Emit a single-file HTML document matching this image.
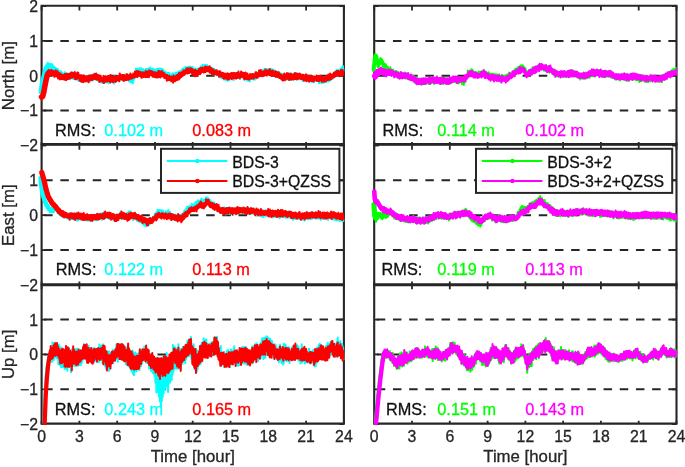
<!DOCTYPE html>
<html><head><meta charset="utf-8"><style>
html,body{margin:0;padding:0;background:#fff;width:685px;height:467px;overflow:hidden}
</style></head><body>
<svg width="685" height="467" viewBox="0 0 685 467" style="display:block;will-change:transform"><rect width="685" height="467" fill="#fff"/><g stroke-width="0.3" font-family='"Liberation Sans", sans-serif' font-size="16.3"><line x1="42.6" y1="40.9" x2="343.9" y2="40.9" stroke="#262626" stroke-width="2.0" stroke-dasharray="8.5 7.7" stroke-dashoffset="-1.55"/><line x1="42.6" y1="75.7" x2="343.9" y2="75.7" stroke="#262626" stroke-width="2.0" stroke-dasharray="8.5 7.7" stroke-dashoffset="-1.55"/><line x1="42.6" y1="110.5" x2="343.9" y2="110.5" stroke="#262626" stroke-width="2.0" stroke-dasharray="8.5 7.7" stroke-dashoffset="-1.55"/><line x1="42.6" y1="180.3" x2="343.9" y2="180.3" stroke="#262626" stroke-width="2.0" stroke-dasharray="8.5 7.7" stroke-dashoffset="-1.55"/><line x1="42.6" y1="215.2" x2="343.9" y2="215.2" stroke="#262626" stroke-width="2.0" stroke-dasharray="8.5 7.7" stroke-dashoffset="-1.55"/><line x1="42.6" y1="250.1" x2="343.9" y2="250.1" stroke="#262626" stroke-width="2.0" stroke-dasharray="8.5 7.7" stroke-dashoffset="-1.55"/><line x1="42.6" y1="319.6" x2="343.9" y2="319.6" stroke="#262626" stroke-width="2.0" stroke-dasharray="8.5 7.7" stroke-dashoffset="-1.55"/><line x1="42.6" y1="354.4" x2="343.9" y2="354.4" stroke="#262626" stroke-width="2.0" stroke-dasharray="8.5 7.7" stroke-dashoffset="-1.55"/><line x1="42.6" y1="389.3" x2="343.9" y2="389.3" stroke="#262626" stroke-width="2.0" stroke-dasharray="8.5 7.7" stroke-dashoffset="-1.55"/><line x1="375.2" y1="40.9" x2="676.5" y2="40.9" stroke="#262626" stroke-width="2.0" stroke-dasharray="8.5 7.7" stroke-dashoffset="-1.55"/><line x1="375.2" y1="75.7" x2="676.5" y2="75.7" stroke="#262626" stroke-width="2.0" stroke-dasharray="8.5 7.7" stroke-dashoffset="-1.55"/><line x1="375.2" y1="110.5" x2="676.5" y2="110.5" stroke="#262626" stroke-width="2.0" stroke-dasharray="8.5 7.7" stroke-dashoffset="-1.55"/><line x1="375.2" y1="180.3" x2="676.5" y2="180.3" stroke="#262626" stroke-width="2.0" stroke-dasharray="8.5 7.7" stroke-dashoffset="-1.55"/><line x1="375.2" y1="215.2" x2="676.5" y2="215.2" stroke="#262626" stroke-width="2.0" stroke-dasharray="8.5 7.7" stroke-dashoffset="-1.55"/><line x1="375.2" y1="250.1" x2="676.5" y2="250.1" stroke="#262626" stroke-width="2.0" stroke-dasharray="8.5 7.7" stroke-dashoffset="-1.55"/><line x1="375.2" y1="319.6" x2="676.5" y2="319.6" stroke="#262626" stroke-width="2.0" stroke-dasharray="8.5 7.7" stroke-dashoffset="-1.55"/><line x1="375.2" y1="354.4" x2="676.5" y2="354.4" stroke="#262626" stroke-width="2.0" stroke-dasharray="8.5 7.7" stroke-dashoffset="-1.55"/><line x1="375.2" y1="389.3" x2="676.5" y2="389.3" stroke="#262626" stroke-width="2.0" stroke-dasharray="8.5 7.7" stroke-dashoffset="-1.55"/><path d="M41.6 145.3 v-3.3 M41.6 6.1 v4.4 M79.4 145.3 v-3.3 M79.4 6.1 v4.4 M117.2 145.3 v-3.3 M117.2 6.1 v4.4 M155.0 145.3 v-3.3 M155.0 6.1 v4.4 M192.7 145.3 v-3.3 M192.7 6.1 v4.4 M230.5 145.3 v-3.3 M230.5 6.1 v4.4 M268.3 145.3 v-3.3 M268.3 6.1 v4.4 M306.1 145.3 v-3.3 M306.1 6.1 v4.4 M343.9 145.3 v-3.3 M343.9 6.1 v4.4 M41.6 145.3 h4.6 M343.9 145.3 h-4.6 M41.6 110.5 h4.6 M343.9 110.5 h-4.6 M41.6 75.7 h4.6 M343.9 75.7 h-4.6 M41.6 40.9 h4.6 M343.9 40.9 h-4.6 M41.6 6.1 h4.6 M343.9 6.1 h-4.6 " stroke="#262626" stroke-width="1.8" fill="none"/><path d="M41.6 5.8 H343.9 V144.1 H41.6 Z" fill="none" stroke="#262626" stroke-width="2.1"/><path d="M41.6 284.9 v-3.3 M41.6 145.4 v4.4 M79.4 284.9 v-3.3 M79.4 145.4 v4.4 M117.2 284.9 v-3.3 M117.2 145.4 v4.4 M155.0 284.9 v-3.3 M155.0 145.4 v4.4 M192.7 284.9 v-3.3 M192.7 145.4 v4.4 M230.5 284.9 v-3.3 M230.5 145.4 v4.4 M268.3 284.9 v-3.3 M268.3 145.4 v4.4 M306.1 284.9 v-3.3 M306.1 145.4 v4.4 M343.9 284.9 v-3.3 M343.9 145.4 v4.4 M41.6 284.9 h4.6 M343.9 284.9 h-4.6 M41.6 250.1 h4.6 M343.9 250.1 h-4.6 M41.6 215.2 h4.6 M343.9 215.2 h-4.6 M41.6 180.3 h4.6 M343.9 180.3 h-4.6 M41.6 145.4 h4.6 M343.9 145.4 h-4.6 " stroke="#262626" stroke-width="1.8" fill="none"/><path d="M41.6 144.8 H343.9 V284.4 H41.6 Z" fill="none" stroke="#262626" stroke-width="2.1"/><path d="M41.6 424.1 v-3.3 M41.6 284.8 v4.4 M79.4 424.1 v-3.3 M79.4 284.8 v4.4 M117.2 424.1 v-3.3 M117.2 284.8 v4.4 M155.0 424.1 v-3.3 M155.0 284.8 v4.4 M192.7 424.1 v-3.3 M192.7 284.8 v4.4 M230.5 424.1 v-3.3 M230.5 284.8 v4.4 M268.3 424.1 v-3.3 M268.3 284.8 v4.4 M306.1 424.1 v-3.3 M306.1 284.8 v4.4 M343.9 424.1 v-3.3 M343.9 284.8 v4.4 M41.6 424.1 h4.6 M343.9 424.1 h-4.6 M41.6 389.3 h4.6 M343.9 389.3 h-4.6 M41.6 354.4 h4.6 M343.9 354.4 h-4.6 M41.6 319.6 h4.6 M343.9 319.6 h-4.6 M41.6 284.8 h4.6 M343.9 284.8 h-4.6 " stroke="#262626" stroke-width="1.8" fill="none"/><path d="M41.6 285.2 H343.9 V423.6 H41.6 Z" fill="none" stroke="#262626" stroke-width="2.1"/><path d="M374.2 145.3 v-3.3 M374.2 6.1 v4.4 M412.0 145.3 v-3.3 M412.0 6.1 v4.4 M449.8 145.3 v-3.3 M449.8 6.1 v4.4 M487.6 145.3 v-3.3 M487.6 6.1 v4.4 M525.4 145.3 v-3.3 M525.4 6.1 v4.4 M563.1 145.3 v-3.3 M563.1 6.1 v4.4 M600.9 145.3 v-3.3 M600.9 6.1 v4.4 M638.7 145.3 v-3.3 M638.7 6.1 v4.4 M676.5 145.3 v-3.3 M676.5 6.1 v4.4 M374.2 145.3 h4.6 M676.5 145.3 h-4.6 M374.2 110.5 h4.6 M676.5 110.5 h-4.6 M374.2 75.7 h4.6 M676.5 75.7 h-4.6 M374.2 40.9 h4.6 M676.5 40.9 h-4.6 M374.2 6.1 h4.6 M676.5 6.1 h-4.6 " stroke="#262626" stroke-width="1.8" fill="none"/><path d="M374.2 5.8 H676.5 V144.1 H374.2 Z" fill="none" stroke="#262626" stroke-width="2.1"/><path d="M374.2 284.9 v-3.3 M374.2 145.4 v4.4 M412.0 284.9 v-3.3 M412.0 145.4 v4.4 M449.8 284.9 v-3.3 M449.8 145.4 v4.4 M487.6 284.9 v-3.3 M487.6 145.4 v4.4 M525.4 284.9 v-3.3 M525.4 145.4 v4.4 M563.1 284.9 v-3.3 M563.1 145.4 v4.4 M600.9 284.9 v-3.3 M600.9 145.4 v4.4 M638.7 284.9 v-3.3 M638.7 145.4 v4.4 M676.5 284.9 v-3.3 M676.5 145.4 v4.4 M374.2 284.9 h4.6 M676.5 284.9 h-4.6 M374.2 250.1 h4.6 M676.5 250.1 h-4.6 M374.2 215.2 h4.6 M676.5 215.2 h-4.6 M374.2 180.3 h4.6 M676.5 180.3 h-4.6 M374.2 145.4 h4.6 M676.5 145.4 h-4.6 " stroke="#262626" stroke-width="1.8" fill="none"/><path d="M374.2 144.8 H676.5 V284.4 H374.2 Z" fill="none" stroke="#262626" stroke-width="2.1"/><path d="M374.2 424.1 v-3.3 M374.2 284.8 v4.4 M412.0 424.1 v-3.3 M412.0 284.8 v4.4 M449.8 424.1 v-3.3 M449.8 284.8 v4.4 M487.6 424.1 v-3.3 M487.6 284.8 v4.4 M525.4 424.1 v-3.3 M525.4 284.8 v4.4 M563.1 424.1 v-3.3 M563.1 284.8 v4.4 M600.9 424.1 v-3.3 M600.9 284.8 v4.4 M638.7 424.1 v-3.3 M638.7 284.8 v4.4 M676.5 424.1 v-3.3 M676.5 284.8 v4.4 M374.2 424.1 h4.6 M676.5 424.1 h-4.6 M374.2 389.3 h4.6 M676.5 389.3 h-4.6 M374.2 354.4 h4.6 M676.5 354.4 h-4.6 M374.2 319.6 h4.6 M676.5 319.6 h-4.6 M374.2 284.8 h4.6 M676.5 284.8 h-4.6 " stroke="#262626" stroke-width="1.8" fill="none"/><path d="M374.2 285.2 H676.5 V423.6 H374.2 Z" fill="none" stroke="#262626" stroke-width="2.1"/><path d="M41.0 93.9 L41.5 85.0 L41.9 88.2 L42.4 81.3 L42.8 84.1 L43.3 76.3 L43.7 78.9 L44.2 72.6 L44.6 75.6 L45.1 70.4 L45.5 71.8 L46.0 66.7 L46.4 70.2 L46.9 64.6 L47.3 68.4 L47.8 62.7 L48.2 68.1 L48.7 63.9 L49.1 68.2 L49.6 63.7 L50.0 68.3 L50.5 64.5 L50.9 69.5 L51.4 63.9 L51.8 70.2 L52.3 64.4 L52.7 70.9 L53.2 65.9 L53.6 71.4 L54.1 67.0 L54.5 72.3 L55.0 67.8 L55.4 71.7 L55.9 68.2 L56.3 73.6 L56.8 69.2 L57.2 72.9 L57.7 68.9 L58.1 74.8 L58.6 70.7 L59.0 76.2 L59.5 70.9 L59.9 76.1 L60.4 71.9 L60.8 76.0 L61.3 71.5 L61.7 76.3 L62.2 73.2 L62.6 77.6 L63.1 74.3 L63.5 77.8 L64.0 73.2 L64.4 78.3 L64.9 72.3 L65.3 78.8 L65.8 73.6 L66.2 79.8 L66.7 73.2 L67.1 78.0 L67.6 73.4 L68.0 78.0 L68.5 75.1 L68.9 78.8 L69.4 74.7 L69.8 78.4 L70.3 73.7 L70.7 78.5 L71.2 73.0 L71.6 78.0 L72.1 72.2 L72.5 78.4 L73.0 72.7 L73.4 79.0 L73.9 73.7 L74.3 78.2 L74.8 73.6 L75.2 78.9 L75.7 74.7 L76.1 79.5 L76.6 74.1 L77.0 79.4 L77.5 74.8 L77.9 80.4 L78.4 75.6 L78.8 80.4 L79.3 75.0 L79.7 80.9 L80.2 76.6 L80.6 80.2 L81.1 76.4 L81.5 81.7 L82.0 76.9 L82.4 80.9 L82.9 76.8 L83.3 82.1 L83.8 77.9 L84.2 81.5 L84.7 76.7 L85.1 81.6 L85.6 77.1 L86.0 81.1 L86.5 76.7 L86.9 81.0 L87.4 76.4 L87.8 81.1 L88.3 75.2 L88.7 81.4 L89.2 76.0 L89.6 81.4 L90.1 76.9 L90.5 80.3 L91.0 76.0 L91.4 80.3 L91.9 75.3 L92.3 80.1 L92.8 75.0 L93.2 80.5 L93.7 75.3 L94.1 78.7 L94.6 73.6 L95.0 78.8 L95.5 74.7 L95.9 79.3 L96.4 75.3 L96.8 79.2 L97.3 76.1 L97.7 80.7 L98.2 76.0 L98.6 81.2 L99.1 76.3 L99.5 81.0 L100.0 77.0 L100.4 81.5 L100.9 77.1 L101.3 82.6 L101.8 77.7 L102.2 82.9 L102.7 78.8 L103.1 81.8 L103.6 78.9 L104.0 82.8 L104.5 78.5 L104.9 82.4 L105.4 77.1 L105.8 81.4 L106.3 77.6 L106.7 82.5 L107.2 78.0 L107.6 81.9 L108.1 78.0 L108.5 83.2 L109.0 76.5 L109.4 82.2 L109.9 78.5 L110.3 82.5 L110.8 78.4 L111.2 81.3 L111.7 78.2 L112.1 82.1 L112.6 77.4 L113.0 81.6 L113.5 77.8 L113.9 83.7 L114.4 76.1 L114.8 82.1 L115.3 78.1 L115.7 80.7 L116.2 77.0 L116.6 81.1 L117.1 76.8 L117.5 80.7 L118.0 76.7 L118.4 79.4 L118.9 76.0 L119.3 80.2 L119.8 75.3 L120.2 80.5 L120.7 75.9 L121.1 79.3 L121.6 74.9 L122.0 78.5 L122.5 75.0 L122.9 79.9 L123.4 75.1 L123.8 80.3 L124.3 74.8 L124.7 80.0 L125.2 74.6 L125.6 79.2 L126.1 76.1 L126.5 79.3 L127.0 75.2 L127.4 79.6 L127.9 75.9 L128.3 79.5 L128.8 76.5 L129.2 81.6 L129.7 77.3 L130.1 81.3 L130.6 78.6 L131.0 82.4 L131.5 78.8 L131.9 82.1 L132.4 79.0 L132.8 83.2 L133.3 77.4 L133.7 80.2 L134.2 74.4 L134.6 78.3 L135.1 72.5 L135.5 74.9 L136.0 68.4 L136.4 74.6 L136.9 69.1 L137.3 73.0 L137.8 69.0 L138.2 73.8 L138.7 68.8 L139.1 73.6 L139.6 68.3 L140.0 75.2 L140.5 69.3 L140.9 74.1 L141.4 68.2 L141.8 74.6 L142.3 69.9 L142.7 73.7 L143.2 69.3 L143.6 75.2 L144.1 70.2 L144.5 74.8 L145.0 70.3 L145.4 74.8 L145.9 69.0 L146.3 73.6 L146.8 69.8 L147.2 74.6 L147.7 68.8 L148.1 73.4 L148.6 68.6 L149.0 74.4 L149.5 68.7 L149.9 73.5 L150.3 67.6 L150.8 72.5 L151.2 68.8 L151.7 72.4 L152.1 69.3 L152.6 73.8 L153.0 68.5 L153.5 74.0 L153.9 69.7 L154.4 74.5 L154.8 69.6 L155.3 73.7 L155.7 70.1 L156.2 75.7 L156.6 69.3 L157.1 74.7 L157.5 69.0 L158.0 73.7 L158.4 68.8 L158.9 73.5 L159.3 68.5 L159.8 74.1 L160.2 68.5 L160.7 73.1 L161.1 69.6 L161.6 74.1 L162.0 68.7 L162.5 74.5 L162.9 69.7 L163.4 73.7 L163.8 70.5 L164.3 75.4 L164.7 71.9 L165.2 75.2 L165.6 72.0 L166.1 76.8 L166.5 72.8 L167.0 76.7 L167.4 73.1 L167.9 76.9 L168.3 72.7 L168.8 77.3 L169.2 72.7 L169.7 77.3 L170.1 74.4 L170.6 77.4 L171.0 74.2 L171.5 78.9 L171.9 74.2 L172.4 78.5 L172.8 73.2 L173.3 79.2 L173.7 74.1 L174.2 78.9 L174.6 74.2 L175.1 77.8 L175.5 72.8 L176.0 78.4 L176.4 72.7 L176.9 77.2 L177.3 73.6 L177.8 77.5 L178.2 71.8 L178.7 77.4 L179.1 71.9 L179.6 76.6 L180.0 71.0 L180.5 75.2 L180.9 71.4 L181.4 74.1 L181.8 69.6 L182.3 73.2 L182.7 68.9 L183.2 74.4 L183.6 68.3 L184.1 71.9 L184.5 68.6 L185.0 71.6 L185.4 67.0 L185.9 71.4 L186.3 67.4 L186.8 71.5 L187.2 67.6 L187.7 71.2 L188.1 66.8 L188.6 71.3 L189.0 67.0 L189.5 70.3 L189.9 66.5 L190.4 70.8 L190.8 66.7 L191.3 70.6 L191.7 67.4 L192.2 72.1 L192.6 67.1 L193.1 72.0 L193.5 68.6 L194.0 73.8 L194.4 69.1 L194.9 74.2 L195.3 68.2 L195.8 74.3 L196.2 68.9 L196.7 74.0 L197.1 69.3 L197.6 74.3 L198.0 68.5 L198.5 72.1 L198.9 68.7 L199.4 71.6 L199.8 67.9 L200.3 70.8 L200.7 66.2 L201.2 72.0 L201.6 66.5 L202.1 69.9 L202.5 64.9 L203.0 70.8 L203.4 65.2 L203.9 70.9 L204.3 65.5 L204.8 69.9 L205.2 65.1 L205.7 69.7 L206.1 66.0 L206.6 69.1 L207.0 65.0 L207.5 71.1 L207.9 65.9 L208.4 71.1 L208.8 66.8 L209.3 71.0 L209.7 67.5 L210.2 71.9 L210.6 67.1 L211.1 71.8 L211.5 68.3 L212.0 71.9 L212.4 68.2 L212.9 74.5 L213.3 69.4 L213.8 74.2 L214.2 68.7 L214.7 74.0 L215.1 69.9 L215.6 74.3 L216.0 70.0 L216.5 75.4 L216.9 71.3 L217.4 74.9 L217.8 71.3 L218.3 75.2 L218.7 71.9 L219.2 76.7 L219.6 72.3 L220.1 77.3 L220.5 73.0 L221.0 77.4 L221.4 73.8 L221.9 78.2 L222.3 72.6 L222.8 77.6 L223.2 73.5 L223.7 79.5 L224.1 74.2 L224.6 79.0 L225.0 74.0 L225.5 79.9 L225.9 75.6 L226.4 79.2 L226.8 75.2 L227.3 80.8 L227.7 75.0 L228.2 79.2 L228.6 74.6 L229.1 80.4 L229.5 74.8 L230.0 78.4 L230.4 74.4 L230.9 78.6 L231.3 73.8 L231.8 78.9 L232.2 74.5 L232.7 79.3 L233.1 74.7 L233.6 80.1 L234.0 74.2 L234.5 78.2 L234.9 73.9 L235.4 77.3 L235.8 73.5 L236.3 77.3 L236.7 73.8 L237.2 77.3 L237.6 73.4 L238.1 77.0 L238.5 72.8 L239.0 77.0 L239.4 72.4 L239.9 79.0 L240.3 73.2 L240.8 77.6 L241.2 73.7 L241.7 77.0 L242.1 72.7 L242.6 77.1 L243.0 73.6 L243.5 77.9 L243.9 74.4 L244.4 79.9 L244.8 73.0 L245.3 78.5 L245.7 75.0 L246.2 79.4 L246.6 75.4 L247.1 80.4 L247.5 74.8 L248.0 80.7 L248.4 75.9 L248.9 80.6 L249.3 75.3 L249.8 81.5 L250.2 74.5 L250.7 79.3 L251.1 75.1 L251.6 79.0 L252.0 75.4 L252.5 78.8 L252.9 74.2 L253.4 79.6 L253.8 74.0 L254.3 79.5 L254.7 74.8 L255.2 79.5 L255.6 73.4 L256.1 78.5 L256.5 72.8 L257.0 77.5 L257.4 73.3 L257.9 77.0 L258.3 73.2 L258.8 75.9 L259.2 71.6 L259.7 75.5 L260.1 72.2 L260.6 75.9 L261.0 70.7 L261.5 75.6 L261.9 71.7 L262.4 75.4 L262.8 70.3 L263.3 75.7 L263.7 70.7 L264.2 74.6 L264.6 68.7 L265.1 74.1 L265.5 69.3 L266.0 74.5 L266.4 68.9 L266.9 74.3 L267.3 69.7 L267.8 73.4 L268.2 68.9 L268.7 75.0 L269.1 69.9 L269.6 73.9 L270.0 69.2 L270.5 73.1 L270.9 69.7 L271.4 73.0 L271.8 68.9 L272.3 73.7 L272.7 70.6 L273.2 74.3 L273.6 69.8 L274.1 75.2 L274.5 70.8 L275.0 74.1 L275.4 70.8 L275.9 74.4 L276.3 71.9 L276.8 76.3 L277.2 72.0 L277.7 76.2 L278.1 71.6 L278.6 76.4 L279.0 73.4 L279.5 77.7 L279.9 74.1 L280.4 78.2 L280.8 73.3 L281.3 79.3 L281.7 75.1 L282.2 79.2 L282.6 74.1 L283.1 78.7 L283.5 74.8 L284.0 79.2 L284.4 74.5 L284.9 78.6 L285.3 75.6 L285.8 78.6 L286.2 74.0 L286.7 78.7 L287.1 74.9 L287.6 79.5 L288.0 74.3 L288.5 79.6 L288.9 74.1 L289.4 79.5 L289.8 74.3 L290.3 78.7 L290.7 73.1 L291.2 80.0 L291.6 74.2 L292.1 80.0 L292.5 74.6 L293.0 79.6 L293.4 75.7 L293.9 79.1 L294.3 74.5 L294.8 78.5 L295.2 74.3 L295.7 78.5 L296.1 73.2 L296.6 79.6 L297.0 74.2 L297.5 79.8 L297.9 74.2 L298.4 78.6 L298.8 75.3 L299.3 78.4 L299.7 74.6 L300.2 79.4 L300.6 74.0 L301.1 78.2 L301.5 74.9 L302.0 79.1 L302.4 75.1 L302.9 81.2 L303.3 74.6 L303.8 80.4 L304.2 76.7 L304.7 80.3 L305.1 76.6 L305.6 80.4 L306.0 76.8 L306.5 80.5 L306.9 76.2 L307.4 80.3 L307.8 77.4 L308.3 81.4 L308.7 76.7 L309.2 81.2 L309.6 75.4 L310.1 80.6 L310.5 77.6 L311.0 81.6 L311.4 76.7 L311.9 81.7 L312.3 76.9 L312.8 81.9 L313.2 77.5 L313.7 82.1 L314.1 76.8 L314.6 81.4 L315.0 76.9 L315.5 81.3 L315.9 77.4 L316.4 81.0 L316.8 76.4 L317.3 80.7 L317.7 77.2 L318.2 80.8 L318.6 77.6 L319.1 83.3 L319.5 78.0 L320.0 82.5 L320.4 77.2 L320.9 81.5 L321.3 78.4 L321.8 83.3 L322.2 77.5 L322.7 82.5 L323.1 78.2 L323.6 82.7 L324.0 77.8 L324.5 82.3 L324.9 77.6 L325.4 81.7 L325.8 77.1 L326.3 82.1 L326.7 77.0 L327.2 81.4 L327.6 75.8 L328.1 81.6 L328.5 76.4 L329.0 80.7 L329.4 75.9 L329.9 80.4 L330.3 76.0 L330.8 79.9 L331.2 74.8 L331.7 78.0 L332.1 74.7 L332.6 78.8 L333.0 74.1 L333.5 77.5 L333.9 72.6 L334.4 77.1 L334.8 72.0 L335.3 75.4 L335.7 71.5 L336.2 74.8 L336.6 69.8 L337.1 76.0 L337.5 70.4 L338.0 74.2 L338.4 70.2 L338.9 74.5 L339.3 69.7 L339.8 73.2 L340.2 69.3 L340.7 73.1 L341.1 67.9 L341.6 71.3 L342.0 67.2 L342.5 71.4 L342.9 66.1 L343.4 70.5" fill="none" stroke="#00ffff" stroke-width="2.0" stroke-linejoin="round" stroke-linecap="round"/><path d="M41.0 92.0 L42.0 84.0 L44.0 76.0 L46.0 68.0 L48.0 65.5 L51.0 67.0 L55.0 70.0 L60.0 73.5 L63.0 75.5" fill="none" stroke="#00ffff" stroke-width="4.8" stroke-linejoin="round" stroke-linecap="round"/><path d="M41.8 99.6 L42.2 94.0 L42.7 98.1 L43.2 92.5 L43.6 94.3 L44.1 88.7 L44.5 89.9 L45.0 83.7 L45.4 85.9 L45.9 78.4 L46.3 80.4 L46.8 74.3 L47.2 77.1 L47.7 71.4 L48.1 76.5 L48.6 70.1 L49.0 74.2 L49.5 70.6 L49.9 75.3 L50.4 70.9 L50.8 74.9 L51.3 70.1 L51.7 75.1 L52.2 70.9 L52.6 75.0 L53.1 70.8 L53.5 75.4 L54.0 71.5 L54.4 76.8 L54.9 72.1 L55.3 76.0 L55.8 70.2 L56.2 76.3 L56.7 71.9 L57.1 76.5 L57.6 71.2 L58.0 78.5 L58.5 72.7 L58.9 77.3 L59.4 73.3 L59.8 79.4 L60.3 73.6 L60.7 78.9 L61.2 74.2 L61.6 79.1 L62.1 74.7 L62.5 79.2 L63.0 75.1 L63.4 78.9 L63.9 75.1 L64.3 79.7 L64.8 74.1 L65.2 78.6 L65.7 74.3 L66.1 80.2 L66.6 73.8 L67.0 77.9 L67.5 75.2 L67.9 79.2 L68.4 73.9 L68.8 79.0 L69.3 73.8 L69.7 78.5 L70.2 73.5 L70.6 78.3 L71.1 72.6 L71.5 77.0 L72.0 72.7 L72.4 77.5 L72.9 72.9 L73.3 77.3 L73.8 73.4 L74.2 77.6 L74.7 72.0 L75.1 79.2 L75.6 73.3 L76.0 79.1 L76.5 73.6 L76.9 78.9 L77.4 72.6 L77.8 78.0 L78.3 72.8 L78.7 78.0 L79.2 75.3 L79.6 80.7 L80.1 75.5 L80.5 81.2 L81.0 75.3 L81.4 81.6 L81.9 75.8 L82.3 81.4 L82.8 75.9 L83.2 82.3 L83.7 75.5 L84.1 81.3 L84.6 76.1 L85.0 80.2 L85.5 76.6 L85.9 81.3 L86.4 76.2 L86.8 81.2 L87.3 76.6 L87.7 81.2 L88.2 75.9 L88.6 82.3 L89.1 75.8 L89.5 80.1 L90.0 75.2 L90.4 80.3 L90.9 75.8 L91.3 79.7 L91.8 75.3 L92.2 80.1 L92.7 76.1 L93.1 79.3 L93.6 74.4 L94.0 78.3 L94.5 74.2 L94.9 79.0 L95.4 74.0 L95.8 79.3 L96.3 73.6 L96.7 79.8 L97.2 74.8 L97.6 79.3 L98.1 75.3 L98.5 79.6 L99.0 75.5 L99.4 82.0 L99.9 75.9 L100.3 81.0 L100.8 76.2 L101.2 81.3 L101.7 77.7 L102.1 81.2 L102.6 77.9 L103.0 81.8 L103.5 75.8 L103.9 83.1 L104.4 76.8 L104.8 81.6 L105.3 76.2 L105.7 81.8 L106.2 76.6 L106.6 80.5 L107.1 76.7 L107.5 81.3 L108.0 75.9 L108.4 80.1 L108.9 75.9 L109.3 81.1 L109.8 76.8 L110.2 82.4 L110.7 75.1 L111.1 80.8 L111.6 76.7 L112.0 81.6 L112.5 77.2 L112.9 82.2 L113.4 76.2 L113.8 81.4 L114.3 76.6 L114.7 80.6 L115.2 76.6 L115.6 81.9 L116.1 76.2 L116.5 81.0 L117.0 76.1 L117.4 79.7 L117.9 76.3 L118.3 80.1 L118.8 76.0 L119.2 81.3 L119.7 73.6 L120.1 79.1 L120.6 74.5 L121.0 78.6 L121.5 75.4 L121.9 79.7 L122.4 75.0 L122.8 79.8 L123.3 74.9 L123.7 81.0 L124.2 75.2 L124.6 80.3 L125.1 75.6 L125.5 79.6 L126.0 75.9 L126.4 80.1 L126.9 74.1 L127.3 79.2 L127.8 75.3 L128.2 79.8 L128.7 75.7 L129.1 79.4 L129.6 74.4 L130.0 78.6 L130.5 73.4 L130.9 78.8 L131.4 75.5 L131.8 78.5 L132.3 75.0 L132.7 78.2 L133.2 73.6 L133.6 77.1 L134.1 73.6 L134.5 77.5 L135.0 71.6 L135.4 76.7 L135.9 72.3 L136.3 76.3 L136.8 71.1 L137.2 77.2 L137.7 71.4 L138.1 74.6 L138.6 71.2 L139.0 76.1 L139.5 72.2 L139.9 75.8 L140.4 72.1 L140.8 76.7 L141.3 72.6 L141.7 77.8 L142.2 72.5 L142.6 76.3 L143.1 72.3 L143.5 77.0 L144.0 73.3 L144.4 76.7 L144.9 72.3 L145.3 77.2 L145.8 70.9 L146.2 76.3 L146.7 72.9 L147.1 77.2 L147.6 71.6 L148.0 75.2 L148.5 71.4 L148.9 77.3 L149.3 70.3 L149.8 75.4 L150.2 71.4 L150.7 75.3 L151.1 71.1 L151.6 75.2 L152.0 71.2 L152.5 76.5 L152.9 72.0 L153.4 76.8 L153.8 72.3 L154.3 77.0 L154.7 72.8 L155.2 76.8 L155.6 72.2 L156.1 77.5 L156.5 73.4 L157.0 77.5 L157.4 72.8 L157.9 76.9 L158.3 71.1 L158.8 77.3 L159.2 71.3 L159.7 76.9 L160.1 71.4 L160.6 77.5 L161.0 72.0 L161.5 75.5 L161.9 71.1 L162.4 76.0 L162.8 72.4 L163.3 76.6 L163.7 72.7 L164.2 77.8 L164.6 73.5 L165.1 78.2 L165.5 74.8 L166.0 78.2 L166.4 75.0 L166.9 80.8 L167.3 74.9 L167.8 80.1 L168.2 76.3 L168.7 80.2 L169.1 75.8 L169.6 80.1 L170.0 76.6 L170.5 80.4 L170.9 77.2 L171.4 81.3 L171.8 76.4 L172.3 80.6 L172.7 77.0 L173.2 82.7 L173.6 75.6 L174.1 80.8 L174.5 77.0 L175.0 81.2 L175.4 76.6 L175.9 79.9 L176.3 75.4 L176.8 80.3 L177.2 74.9 L177.7 79.8 L178.1 74.4 L178.6 79.6 L179.0 73.0 L179.5 78.7 L179.9 73.2 L180.4 77.7 L180.8 72.6 L181.3 76.9 L181.7 72.5 L182.2 76.1 L182.6 71.6 L183.1 75.4 L183.5 70.5 L184.0 74.9 L184.4 70.6 L184.9 74.4 L185.3 70.4 L185.8 73.6 L186.2 68.9 L186.7 73.1 L187.1 68.3 L187.6 73.4 L188.0 68.2 L188.5 73.1 L188.9 68.5 L189.4 73.0 L189.8 68.5 L190.3 72.2 L190.7 68.0 L191.2 72.3 L191.6 69.2 L192.1 73.9 L192.5 69.1 L193.0 74.5 L193.4 69.9 L193.9 75.2 L194.3 71.5 L194.8 76.2 L195.2 69.7 L195.7 76.1 L196.1 70.6 L196.6 75.3 L197.0 71.1 L197.5 74.8 L197.9 70.7 L198.4 74.4 L198.8 68.9 L199.3 72.9 L199.7 68.6 L200.2 74.1 L200.6 68.0 L201.1 72.8 L201.5 67.9 L202.0 71.7 L202.4 67.6 L202.9 72.1 L203.3 68.2 L203.8 72.6 L204.2 67.9 L204.7 72.1 L205.1 66.5 L205.6 71.9 L206.0 66.7 L206.5 70.8 L206.9 67.6 L207.4 71.3 L207.8 67.1 L208.3 70.8 L208.7 67.3 L209.2 72.0 L209.6 66.2 L210.1 73.0 L210.5 67.8 L211.0 72.6 L211.4 68.2 L211.9 74.1 L212.3 69.5 L212.8 73.4 L213.2 69.2 L213.7 74.7 L214.1 70.6 L214.6 74.0 L215.0 70.6 L215.5 74.1 L215.9 70.7 L216.4 74.3 L216.8 70.3 L217.3 74.9 L217.7 71.4 L218.2 74.7 L218.6 71.6 L219.1 76.8 L219.5 71.2 L220.0 76.2 L220.4 71.6 L220.9 76.4 L221.3 72.7 L221.8 76.6 L222.2 72.9 L222.7 77.4 L223.1 73.0 L223.6 78.4 L224.0 73.9 L224.5 78.4 L224.9 73.5 L225.4 78.5 L225.8 74.4 L226.3 78.2 L226.7 73.8 L227.2 79.2 L227.6 73.3 L228.1 79.5 L228.5 74.0 L229.0 79.1 L229.4 74.1 L229.9 78.3 L230.3 73.7 L230.8 78.3 L231.2 73.0 L231.7 79.2 L232.1 73.2 L232.6 77.7 L233.0 73.1 L233.5 78.3 L233.9 73.2 L234.4 77.0 L234.8 73.0 L235.3 78.5 L235.7 73.8 L236.2 78.6 L236.6 73.0 L237.1 78.1 L237.5 72.8 L238.0 77.4 L238.4 71.5 L238.9 77.8 L239.3 73.8 L239.8 78.3 L240.2 73.6 L240.7 76.8 L241.1 71.4 L241.6 77.0 L242.0 72.3 L242.5 76.4 L242.9 73.0 L243.4 77.7 L243.8 72.7 L244.3 79.2 L244.7 73.7 L245.2 78.7 L245.6 72.5 L246.1 78.9 L246.5 74.2 L247.0 79.0 L247.4 73.6 L247.9 79.0 L248.3 75.3 L248.8 79.6 L249.2 75.3 L249.7 79.1 L250.1 74.0 L250.6 78.6 L251.0 75.1 L251.5 78.5 L251.9 74.2 L252.4 78.0 L252.8 73.9 L253.3 78.8 L253.7 74.6 L254.2 78.0 L254.6 74.4 L255.1 77.3 L255.5 72.2 L256.0 77.4 L256.4 72.2 L256.9 77.8 L257.3 73.3 L257.8 77.4 L258.2 72.9 L258.7 76.3 L259.1 70.2 L259.6 76.3 L260.0 70.9 L260.5 75.4 L260.9 69.9 L261.4 76.2 L261.8 71.8 L262.3 76.0 L262.7 71.7 L263.2 75.9 L263.6 71.2 L264.1 75.7 L264.5 71.0 L265.0 74.9 L265.4 69.4 L265.9 75.2 L266.3 70.3 L266.8 75.6 L267.2 70.6 L267.7 74.7 L268.1 71.4 L268.6 74.4 L269.0 69.9 L269.5 74.9 L269.9 69.0 L270.4 75.5 L270.8 70.7 L271.3 75.4 L271.7 71.0 L272.2 75.2 L272.6 70.6 L273.1 75.0 L273.5 71.4 L274.0 75.6 L274.4 72.3 L274.9 76.0 L275.3 71.2 L275.8 76.9 L276.2 71.8 L276.7 75.7 L277.1 72.2 L277.6 77.0 L278.0 72.8 L278.5 77.1 L278.9 72.3 L279.4 78.1 L279.8 74.4 L280.3 78.1 L280.7 74.3 L281.2 78.8 L281.6 75.3 L282.1 79.8 L282.5 75.7 L283.0 80.6 L283.4 75.3 L283.9 79.3 L284.3 73.6 L284.8 80.3 L285.2 75.5 L285.7 79.6 L286.1 74.3 L286.6 78.3 L287.0 73.0 L287.5 78.7 L287.9 73.8 L288.4 79.2 L288.8 73.5 L289.3 80.1 L289.7 75.0 L290.2 79.2 L290.6 74.0 L291.1 79.5 L291.5 74.0 L292.0 78.4 L292.4 74.9 L292.9 79.3 L293.3 75.3 L293.8 79.4 L294.2 73.4 L294.7 78.3 L295.1 72.9 L295.6 79.1 L296.0 75.0 L296.5 79.2 L296.9 73.5 L297.4 79.0 L297.8 74.1 L298.3 78.7 L298.7 74.6 L299.2 78.4 L299.6 73.4 L300.1 77.3 L300.5 74.6 L301.0 79.0 L301.4 75.1 L301.9 79.2 L302.3 74.7 L302.8 78.4 L303.2 75.0 L303.7 80.4 L304.1 75.6 L304.6 80.5 L305.0 75.6 L305.5 80.0 L305.9 74.3 L306.4 81.2 L306.8 74.9 L307.3 80.4 L307.7 76.2 L308.2 79.9 L308.6 75.9 L309.1 81.7 L309.5 75.7 L310.0 81.0 L310.4 76.0 L310.9 80.3 L311.3 75.8 L311.8 81.0 L312.2 75.9 L312.7 80.7 L313.1 76.5 L313.6 81.6 L314.0 76.4 L314.5 80.4 L314.9 76.4 L315.4 80.0 L315.8 76.8 L316.3 80.1 L316.7 75.6 L317.2 81.1 L317.6 75.9 L318.1 80.2 L318.5 76.1 L319.0 81.2 L319.4 75.9 L319.9 80.2 L320.3 76.3 L320.8 79.9 L321.2 75.8 L321.7 81.7 L322.1 76.9 L322.6 80.5 L323.0 77.3 L323.5 81.7 L323.9 77.2 L324.4 81.6 L324.8 77.3 L325.3 81.3 L325.7 77.0 L326.2 80.7 L326.6 75.9 L327.1 79.9 L327.5 75.6 L328.0 80.1 L328.4 74.6 L328.9 79.2 L329.3 75.8 L329.8 79.8 L330.2 73.4 L330.7 79.2 L331.1 75.3 L331.6 79.0 L332.0 74.7 L332.5 77.5 L332.9 74.2 L333.4 77.5 L333.8 72.8 L334.3 77.3 L334.7 72.7 L335.2 76.2 L335.6 71.7 L336.1 76.1 L336.5 71.2 L337.0 75.7 L337.4 71.0 L337.9 74.9 L338.3 71.1 L338.8 75.4 L339.2 71.5 L339.7 76.2 L340.1 71.6 L340.6 75.2 L341.0 69.9 L341.5 74.1 L341.9 69.8 L342.4 75.8 L342.8 70.2 L343.3 73.9" fill="none" stroke="#ff0000" stroke-width="2.0" stroke-linejoin="round" stroke-linecap="round"/><path d="M41.6 97.0 L42.6 96.5 L43.6 93.0 L44.5 88.0 L45.5 83.0 L46.5 78.0 L47.5 74.5 L49.0 72.5 L52.0 72.5" fill="none" stroke="#ff0000" stroke-width="5.6" stroke-linejoin="round" stroke-linecap="round"/><path d="M373.8 69.6 L374.2 60.5 L374.7 62.6 L375.1 54.5 L375.6 57.6 L376.0 54.5 L376.5 59.0 L376.9 56.5 L377.4 63.2 L377.8 62.0 L378.3 67.7 L378.7 62.2 L379.2 65.2 L379.6 60.6 L380.1 63.0 L380.5 58.1 L381.0 62.5 L381.4 59.0 L381.9 63.6 L382.3 60.7 L382.8 65.5 L383.2 62.0 L383.7 66.9 L384.1 64.3 L384.6 69.2 L385.0 64.4 L385.5 70.4 L385.9 64.3 L386.4 69.9 L386.8 67.3 L387.3 72.2 L387.7 66.6 L388.2 72.3 L388.6 68.6 L389.1 72.8 L389.5 69.2 L390.0 72.5 L390.4 67.3 L390.9 73.2 L391.3 70.1 L391.8 73.4 L392.2 70.6 L392.7 73.9 L393.1 69.5 L393.6 75.0 L394.0 71.3 L394.5 76.2 L394.9 71.3 L395.4 75.5 L395.8 70.9 L396.3 76.4 L396.7 71.2 L397.2 77.2 L397.6 72.7 L398.1 77.8 L398.5 72.6 L399.0 77.0 L399.4 72.4 L399.9 77.2 L400.3 73.8 L400.8 76.6 L401.2 72.7 L401.7 77.8 L402.1 73.8 L402.6 77.1 L403.0 73.1 L403.5 77.1 L403.9 74.0 L404.4 78.1 L404.8 72.4 L405.3 78.6 L405.7 73.8 L406.2 77.8 L406.6 73.8 L407.1 78.7 L407.5 74.3 L408.0 78.9 L408.4 74.4 L408.9 78.5 L409.3 75.3 L409.8 79.3 L410.2 75.2 L410.7 79.2 L411.1 75.0 L411.6 80.0 L412.0 75.4 L412.5 79.7 L412.9 76.3 L413.4 81.2 L413.8 75.7 L414.3 81.7 L414.7 78.0 L415.2 82.9 L415.6 77.4 L416.1 83.5 L416.5 77.7 L417.0 82.9 L417.4 78.6 L417.9 82.9 L418.3 79.6 L418.8 83.2 L419.2 79.7 L419.7 82.8 L420.1 78.6 L420.6 84.0 L421.0 79.7 L421.5 85.0 L421.9 79.0 L422.4 83.6 L422.8 79.3 L423.3 82.9 L423.7 79.6 L424.2 83.3 L424.6 79.1 L425.1 83.2 L425.5 79.0 L426.0 82.8 L426.4 78.7 L426.9 83.4 L427.3 79.6 L427.8 82.8 L428.2 78.7 L428.7 84.1 L429.1 78.6 L429.6 83.2 L430.0 78.5 L430.5 82.6 L430.9 78.4 L431.4 82.9 L431.8 77.1 L432.3 82.7 L432.7 77.5 L433.2 81.9 L433.6 77.0 L434.1 84.0 L434.5 78.1 L435.0 81.8 L435.4 78.5 L435.9 83.2 L436.3 77.8 L436.8 82.3 L437.2 79.2 L437.7 82.3 L438.1 78.8 L438.6 83.2 L439.0 78.5 L439.5 82.0 L439.9 78.1 L440.4 83.4 L440.8 77.5 L441.3 82.8 L441.7 78.9 L442.2 82.9 L442.6 79.5 L443.1 84.2 L443.5 79.0 L444.0 83.4 L444.4 79.5 L444.9 83.1 L445.3 78.8 L445.8 83.5 L446.2 79.4 L446.7 82.9 L447.1 77.9 L447.6 83.0 L448.0 80.1 L448.5 83.8 L448.9 79.4 L449.4 83.7 L449.8 79.5 L450.3 82.5 L450.7 77.9 L451.2 83.1 L451.6 78.5 L452.1 82.0 L452.5 77.7 L453.0 81.3 L453.4 78.4 L453.9 81.3 L454.3 77.3 L454.8 81.7 L455.2 76.9 L455.7 82.2 L456.1 77.1 L456.6 82.9 L457.0 77.4 L457.5 83.0 L457.9 77.4 L458.4 83.5 L458.8 78.4 L459.3 82.7 L459.7 77.8 L460.2 82.0 L460.6 78.3 L461.1 82.0 L461.5 78.2 L462.0 84.1 L462.4 79.6 L462.9 84.2 L463.3 78.5 L463.8 84.9 L464.2 79.1 L464.7 82.5 L465.1 78.4 L465.6 81.8 L466.0 75.7 L466.5 78.5 L466.9 74.7 L467.4 77.5 L467.8 70.6 L468.3 74.9 L468.7 71.8 L469.2 75.0 L469.6 70.7 L470.1 74.5 L470.5 71.1 L471.0 75.5 L471.4 69.2 L471.9 74.3 L472.3 69.7 L472.8 74.6 L473.2 71.1 L473.7 75.0 L474.1 71.9 L474.6 75.4 L475.0 71.7 L475.5 75.2 L475.9 72.0 L476.4 76.5 L476.8 72.8 L477.3 76.1 L477.7 73.4 L478.2 76.9 L478.6 71.5 L479.1 76.5 L479.5 72.1 L480.0 75.7 L480.4 71.9 L480.9 75.2 L481.3 71.3 L481.8 75.3 L482.2 71.2 L482.7 74.3 L483.1 70.9 L483.6 74.4 L484.0 70.6 L484.5 74.9 L484.9 72.1 L485.4 75.6 L485.8 71.4 L486.3 77.0 L486.7 72.6 L487.2 77.7 L487.6 73.0 L488.1 77.8 L488.5 72.3 L489.0 78.0 L489.4 73.4 L489.9 78.7 L490.3 73.7 L490.8 79.0 L491.2 73.8 L491.7 78.7 L492.1 73.9 L492.6 79.2 L493.0 73.8 L493.5 80.4 L493.9 74.2 L494.4 79.3 L494.8 75.2 L495.3 78.5 L495.7 74.2 L496.2 79.4 L496.6 74.6 L497.1 79.5 L497.5 74.7 L498.0 78.7 L498.4 74.8 L498.9 79.7 L499.3 74.3 L499.8 81.2 L500.2 75.7 L500.7 79.7 L501.1 76.1 L501.6 80.4 L502.0 74.8 L502.5 80.3 L502.9 75.6 L503.4 79.4 L503.8 76.7 L504.3 79.6 L504.7 75.4 L505.2 79.8 L505.6 75.8 L506.1 79.9 L506.5 74.9 L507.0 80.2 L507.4 74.5 L507.9 79.8 L508.3 73.8 L508.8 78.8 L509.2 72.6 L509.7 78.3 L510.1 73.5 L510.6 77.8 L511.0 73.5 L511.5 76.6 L511.9 72.3 L512.4 76.2 L512.8 71.4 L513.3 75.8 L513.7 70.9 L514.2 73.8 L514.6 69.7 L515.1 73.8 L515.5 68.7 L516.0 74.2 L516.4 69.2 L516.9 73.0 L517.3 67.8 L517.8 71.0 L518.2 66.9 L518.7 70.9 L519.1 67.1 L519.6 70.7 L520.0 66.1 L520.5 70.6 L520.9 65.2 L521.4 70.1 L521.8 66.0 L522.3 69.8 L522.7 65.2 L523.2 69.3 L523.6 66.2 L524.1 69.9 L524.5 67.9 L525.0 72.0 L525.4 68.2 L525.9 73.6 L526.3 71.0 L526.8 76.4 L527.2 71.7 L527.7 76.2 L528.1 71.6 L528.6 75.0 L529.0 70.5 L529.5 74.4 L529.9 69.9 L530.4 74.3 L530.8 69.3 L531.3 73.4 L531.7 69.2 L532.2 73.4 L532.6 67.3 L533.1 72.9 L533.5 67.7 L534.0 73.5 L534.4 67.5 L534.9 71.7 L535.3 68.1 L535.8 71.6 L536.2 66.8 L536.7 71.4 L537.1 65.9 L537.6 70.3 L538.0 65.7 L538.5 69.6 L538.9 65.6 L539.4 70.0 L539.8 65.9 L540.3 68.5 L540.7 64.9 L541.2 69.3 L541.6 65.2 L542.1 69.1 L542.5 65.0 L543.0 69.2 L543.4 65.3 L543.9 70.6 L544.3 65.7 L544.8 70.6 L545.2 67.0 L545.7 71.0 L546.1 65.4 L546.6 71.5 L547.1 67.4 L547.5 70.5 L548.0 66.3 L548.4 71.0 L548.9 67.8 L549.3 72.7 L549.8 67.8 L550.2 70.8 L550.7 67.6 L551.1 71.4 L551.6 69.1 L552.0 73.2 L552.5 69.5 L552.9 73.4 L553.4 70.5 L553.8 75.1 L554.3 71.6 L554.7 74.6 L555.2 70.1 L555.6 76.1 L556.1 71.7 L556.5 76.0 L557.0 71.2 L557.4 76.4 L557.9 72.1 L558.3 75.4 L558.8 72.6 L559.2 76.6 L559.7 72.2 L560.1 75.9 L560.6 72.6 L561.0 76.8 L561.5 72.3 L561.9 76.7 L562.4 72.6 L562.8 76.7 L563.3 71.8 L563.7 76.9 L564.2 71.2 L564.6 75.5 L565.1 71.8 L565.5 75.9 L566.0 72.6 L566.4 76.9 L566.9 72.8 L567.3 75.9 L567.8 71.5 L568.2 76.9 L568.7 71.4 L569.1 76.7 L569.6 71.3 L570.0 76.4 L570.5 72.4 L570.9 75.9 L571.4 70.0 L571.8 76.1 L572.3 70.9 L572.7 76.2 L573.2 71.2 L573.6 76.8 L574.1 71.6 L574.5 75.2 L575.0 71.5 L575.4 75.5 L575.9 71.2 L576.3 76.8 L576.8 72.6 L577.2 76.5 L577.7 72.4 L578.1 76.6 L578.6 73.9 L579.0 77.6 L579.5 73.4 L579.9 79.4 L580.4 74.7 L580.8 78.1 L581.3 73.8 L581.7 78.5 L582.2 74.0 L582.6 78.7 L583.1 74.6 L583.5 78.7 L584.0 73.9 L584.4 78.4 L584.9 72.9 L585.3 78.5 L585.8 72.6 L586.2 78.3 L586.7 73.1 L587.1 77.7 L587.6 73.4 L588.0 76.2 L588.5 73.3 L588.9 77.0 L589.4 71.8 L589.8 77.7 L590.3 71.3 L590.7 74.9 L591.2 71.3 L591.6 75.4 L592.1 70.9 L592.5 76.3 L593.0 71.1 L593.4 74.1 L593.9 71.6 L594.3 75.4 L594.8 71.4 L595.2 74.5 L595.7 71.4 L596.1 75.0 L596.6 71.4 L597.0 75.4 L597.5 71.4 L597.9 74.6 L598.4 71.3 L598.8 75.7 L599.3 70.0 L599.7 75.4 L600.2 70.9 L600.6 75.1 L601.1 70.9 L601.5 75.8 L602.0 70.7 L602.4 76.9 L602.9 71.0 L603.3 76.3 L603.8 71.0 L604.2 76.2 L604.7 72.0 L605.1 77.1 L605.6 71.1 L606.0 76.6 L606.5 71.3 L606.9 76.4 L607.4 72.3 L607.8 75.3 L608.3 71.4 L608.7 75.9 L609.2 71.6 L609.6 76.7 L610.1 72.7 L610.5 76.2 L611.0 72.8 L611.4 77.7 L611.9 73.0 L612.3 77.5 L612.8 73.6 L613.2 78.2 L613.7 74.7 L614.1 78.1 L614.6 75.3 L615.0 79.2 L615.5 75.5 L615.9 79.6 L616.4 74.8 L616.8 79.0 L617.3 76.0 L617.7 78.9 L618.2 74.5 L618.6 79.5 L619.1 75.0 L619.5 80.1 L620.0 75.9 L620.4 80.5 L620.9 74.4 L621.3 78.9 L621.8 74.1 L622.2 79.2 L622.7 75.2 L623.1 78.7 L623.6 75.4 L624.0 78.6 L624.5 75.7 L624.9 79.9 L625.4 74.4 L625.8 80.1 L626.3 75.1 L626.7 79.9 L627.2 73.8 L627.6 79.5 L628.1 75.3 L628.5 81.1 L629.0 75.9 L629.4 79.3 L629.9 75.8 L630.3 78.9 L630.8 74.1 L631.2 79.7 L631.7 75.1 L632.1 78.7 L632.6 75.3 L633.0 78.8 L633.5 74.9 L633.9 78.3 L634.4 74.5 L634.8 78.4 L635.3 75.8 L635.7 80.3 L636.2 75.4 L636.6 79.2 L637.1 74.5 L637.5 79.9 L638.0 74.9 L638.4 80.5 L638.9 75.5 L639.3 81.9 L639.8 76.2 L640.2 80.0 L640.7 75.5 L641.1 81.3 L641.6 75.5 L642.0 80.6 L642.5 76.6 L642.9 80.5 L643.4 77.0 L643.8 80.4 L644.3 76.0 L644.7 81.8 L645.2 77.7 L645.6 81.6 L646.1 77.8 L646.5 81.9 L647.0 76.5 L647.4 81.7 L647.9 77.3 L648.3 81.9 L648.8 77.5 L649.2 80.3 L649.7 76.2 L650.1 81.3 L650.6 74.8 L651.0 80.1 L651.5 76.3 L651.9 80.6 L652.4 76.2 L652.8 81.1 L653.3 75.8 L653.7 80.3 L654.2 76.8 L654.6 80.6 L655.1 77.5 L655.5 80.3 L656.0 77.6 L656.4 80.6 L656.9 76.7 L657.3 80.4 L657.8 77.5 L658.2 80.5 L658.7 76.9 L659.1 82.1 L659.6 77.5 L660.0 81.2 L660.5 76.3 L660.9 81.3 L661.4 76.8 L661.8 82.0 L662.3 75.0 L662.7 79.6 L663.2 75.0 L663.6 79.6 L664.1 74.7 L664.5 80.0 L665.0 74.4 L665.4 79.0 L665.9 73.5 L666.3 77.3 L666.8 73.5 L667.2 77.8 L667.7 73.5 L668.1 77.0 L668.6 73.3 L669.0 76.7 L669.5 71.9 L669.9 75.4 L670.4 71.5 L670.8 75.9 L671.3 70.5 L671.7 74.6 L672.2 69.9 L672.6 74.3 L673.1 69.3 L673.5 74.1 L674.0 69.0 L674.4 72.4 L674.9 69.0 L675.3 71.5 L675.8 67.9 L676.2 71.1" fill="none" stroke="#00ff00" stroke-width="2.0" stroke-linejoin="round" stroke-linecap="round"/><path d="M373.6 70.0 L374.3 62.0 L375.2 55.5 L376.3 56.0 L377.3 61.0 L378.3 66.0 L379.5 62.5 L381.0 60.0 L382.5 62.5 L384.0 66.0 L386.5 68.5 L389.5 70.5 L392.0 72.0" fill="none" stroke="#00ff00" stroke-width="3.8" stroke-linejoin="round" stroke-linecap="round"/><path d="M375.3 78.8 L375.8 73.2 L376.2 76.4 L376.6 70.1 L377.1 75.0 L377.5 70.2 L378.0 75.4 L378.4 70.0 L378.9 74.9 L379.3 69.1 L379.8 73.1 L380.2 68.7 L380.7 73.4 L381.1 67.4 L381.6 73.6 L382.0 68.2 L382.5 74.6 L382.9 69.8 L383.4 74.8 L383.8 69.2 L384.3 73.8 L384.7 70.2 L385.2 74.6 L385.6 69.8 L386.1 76.4 L386.5 70.4 L387.0 75.4 L387.4 70.8 L387.9 74.3 L388.3 69.6 L388.8 75.1 L389.2 70.0 L389.7 75.1 L390.1 71.0 L390.6 74.0 L391.0 69.7 L391.5 75.9 L391.9 70.3 L392.4 74.5 L392.8 71.5 L393.3 75.0 L393.7 71.4 L394.2 77.3 L394.6 72.2 L395.1 76.6 L395.5 72.0 L396.0 76.3 L396.4 72.4 L396.9 76.6 L397.3 72.5 L397.8 77.6 L398.2 72.5 L398.7 77.1 L399.1 73.8 L399.6 78.7 L400.0 73.7 L400.5 78.1 L400.9 72.0 L401.4 77.7 L401.8 73.0 L402.3 78.5 L402.7 73.6 L403.2 77.4 L403.6 74.0 L404.1 77.9 L404.5 73.3 L405.0 78.0 L405.4 73.2 L405.9 77.6 L406.3 73.7 L406.8 77.5 L407.2 73.5 L407.7 78.5 L408.1 72.9 L408.6 79.3 L409.0 75.4 L409.5 78.5 L409.9 75.8 L410.4 79.9 L410.8 74.4 L411.3 79.9 L411.7 76.2 L412.2 80.5 L412.6 76.2 L413.1 80.1 L413.5 77.1 L414.0 81.4 L414.4 76.4 L414.9 82.3 L415.3 77.8 L415.8 82.5 L416.2 78.7 L416.7 84.2 L417.1 78.8 L417.6 82.8 L418.0 78.4 L418.5 84.1 L418.9 79.8 L419.4 83.3 L419.8 79.3 L420.3 84.1 L420.7 80.1 L421.2 83.8 L421.6 78.6 L422.1 84.1 L422.5 79.6 L423.0 83.4 L423.4 78.3 L423.9 84.1 L424.3 78.9 L424.8 83.7 L425.2 78.3 L425.7 83.9 L426.1 78.4 L426.6 82.6 L427.0 78.8 L427.5 82.2 L427.9 78.7 L428.4 82.4 L428.8 77.7 L429.3 81.9 L429.7 77.8 L430.2 84.1 L430.6 78.1 L431.1 82.2 L431.5 77.7 L432.0 82.0 L432.4 77.0 L432.9 81.6 L433.3 77.3 L433.8 82.8 L434.2 78.1 L434.7 82.8 L435.1 78.3 L435.6 82.9 L436.0 77.4 L436.5 82.0 L436.9 76.6 L437.4 82.8 L437.8 78.1 L438.3 83.0 L438.7 78.6 L439.2 82.3 L439.6 77.9 L440.1 84.0 L440.5 78.4 L441.0 84.0 L441.4 77.9 L441.9 82.6 L442.3 78.1 L442.8 82.4 L443.2 77.9 L443.7 82.8 L444.1 78.1 L444.6 82.8 L445.0 78.4 L445.5 83.3 L445.9 78.6 L446.4 83.9 L446.8 78.9 L447.3 82.8 L447.7 79.0 L448.2 84.0 L448.6 78.4 L449.1 82.3 L449.5 78.1 L450.0 83.5 L450.4 77.7 L450.9 81.9 L451.3 77.5 L451.8 82.3 L452.2 78.0 L452.7 81.8 L453.1 76.2 L453.6 81.8 L454.0 77.3 L454.5 81.2 L454.9 76.7 L455.4 80.8 L455.8 76.6 L456.3 81.7 L456.7 77.4 L457.2 83.1 L457.6 76.3 L458.1 82.0 L458.5 77.8 L459.0 81.8 L459.4 77.5 L459.9 81.2 L460.3 77.9 L460.8 81.8 L461.2 77.8 L461.7 80.8 L462.1 77.5 L462.6 81.0 L463.0 77.2 L463.5 81.4 L463.9 77.1 L464.4 81.5 L464.8 75.4 L465.3 81.2 L465.7 75.8 L466.2 79.0 L466.6 74.5 L467.1 78.6 L467.5 73.9 L468.0 77.1 L468.4 71.9 L468.9 76.2 L469.3 72.3 L469.8 76.5 L470.2 71.1 L470.7 75.8 L471.1 71.2 L471.6 76.2 L472.0 71.0 L472.5 76.0 L472.9 72.6 L473.4 77.5 L473.8 72.3 L474.3 76.6 L474.7 72.8 L475.2 77.7 L475.6 72.9 L476.1 77.2 L476.5 72.7 L477.0 77.4 L477.4 73.6 L477.9 78.0 L478.3 74.0 L478.8 77.5 L479.2 74.4 L479.7 76.9 L480.1 73.7 L480.6 76.5 L481.0 72.3 L481.5 77.4 L481.9 72.1 L482.4 75.6 L482.8 71.9 L483.3 76.3 L483.7 70.1 L484.2 76.7 L484.6 71.5 L485.1 78.3 L485.5 71.9 L486.0 76.9 L486.4 73.1 L486.9 77.8 L487.3 74.0 L487.8 78.1 L488.2 73.8 L488.7 79.4 L489.1 75.5 L489.6 79.2 L490.0 75.9 L490.5 80.7 L490.9 74.8 L491.4 79.5 L491.8 75.1 L492.3 79.5 L492.7 74.9 L493.2 79.9 L493.6 76.0 L494.1 81.4 L494.5 75.1 L495.0 79.1 L495.4 75.8 L495.9 80.2 L496.3 76.0 L496.8 80.9 L497.2 75.8 L497.7 80.2 L498.1 75.6 L498.6 81.0 L499.0 75.6 L499.5 80.5 L499.9 76.8 L500.4 80.3 L500.8 76.5 L501.3 82.6 L501.7 76.2 L502.2 81.4 L502.6 76.1 L503.1 81.0 L503.5 77.5 L504.0 80.5 L504.4 77.6 L504.9 81.2 L505.3 77.4 L505.8 82.6 L506.2 76.4 L506.7 81.1 L507.1 76.4 L507.6 81.0 L508.0 75.8 L508.5 80.2 L508.9 75.2 L509.4 79.1 L509.8 73.1 L510.3 78.1 L510.7 74.9 L511.2 78.2 L511.6 74.2 L512.1 77.4 L512.5 71.7 L513.0 76.2 L513.4 71.0 L513.9 76.2 L514.3 71.2 L514.8 76.2 L515.2 71.5 L515.7 74.3 L516.1 70.2 L516.6 73.7 L517.0 69.6 L517.5 73.2 L517.9 69.6 L518.4 73.5 L518.8 68.4 L519.3 73.2 L519.7 67.0 L520.2 73.3 L520.6 68.0 L521.1 72.6 L521.5 67.5 L522.0 71.8 L522.4 67.8 L522.9 71.5 L523.3 67.7 L523.8 72.2 L524.2 68.8 L524.7 74.1 L525.1 69.7 L525.6 76.0 L526.0 72.3 L526.5 77.4 L526.9 72.8 L527.4 76.0 L527.8 72.7 L528.3 76.2 L528.7 70.6 L529.2 75.0 L529.6 70.3 L530.1 75.0 L530.5 70.0 L531.0 73.5 L531.4 69.7 L531.9 74.7 L532.3 69.3 L532.8 72.3 L533.2 68.1 L533.7 73.1 L534.1 67.6 L534.6 73.1 L535.0 66.7 L535.5 72.7 L535.9 66.4 L536.4 72.0 L536.8 67.1 L537.3 70.0 L537.7 66.5 L538.2 70.2 L538.6 64.9 L539.1 71.3 L539.5 63.7 L540.0 68.9 L540.4 65.0 L540.9 69.5 L541.3 64.0 L541.8 69.4 L542.2 64.6 L542.7 69.3 L543.1 65.7 L543.6 69.2 L544.0 65.5 L544.5 69.5 L544.9 65.8 L545.4 70.3 L545.9 65.1 L546.3 70.3 L546.8 67.0 L547.2 72.1 L547.7 66.8 L548.1 71.4 L548.6 66.4 L549.0 71.0 L549.5 66.1 L549.9 72.0 L550.4 65.6 L550.8 71.6 L551.3 67.7 L551.7 72.1 L552.2 68.8 L552.6 73.9 L553.1 69.4 L553.5 73.2 L554.0 69.6 L554.4 74.3 L554.9 71.7 L555.3 76.8 L555.8 70.7 L556.2 74.9 L556.7 71.3 L557.1 74.9 L557.6 72.2 L558.0 75.6 L558.5 72.1 L558.9 76.5 L559.4 71.9 L559.8 75.5 L560.3 71.4 L560.7 77.4 L561.2 71.0 L561.6 75.3 L562.1 71.7 L562.5 76.3 L563.0 71.2 L563.4 76.6 L563.9 71.6 L564.3 75.9 L564.8 71.3 L565.2 76.1 L565.7 72.4 L566.1 76.9 L566.6 72.3 L567.0 76.2 L567.5 71.2 L567.9 76.1 L568.4 70.7 L568.8 77.2 L569.3 70.8 L569.7 75.1 L570.2 70.2 L570.6 76.4 L571.1 71.4 L571.5 76.3 L572.0 70.6 L572.4 76.0 L572.9 70.5 L573.3 76.3 L573.8 71.8 L574.2 75.7 L574.7 71.7 L575.1 76.1 L575.6 72.1 L576.0 76.3 L576.5 71.8 L576.9 76.7 L577.4 72.0 L577.8 77.4 L578.3 73.2 L578.7 77.4 L579.2 73.5 L579.6 78.0 L580.1 73.5 L580.5 77.6 L581.0 74.0 L581.4 77.9 L581.9 73.4 L582.3 77.6 L582.8 73.4 L583.2 78.1 L583.7 72.4 L584.1 77.0 L584.6 73.4 L585.0 78.4 L585.5 73.8 L585.9 77.0 L586.4 72.9 L586.8 77.3 L587.3 73.0 L587.7 77.7 L588.2 72.0 L588.6 76.6 L589.1 71.5 L589.5 75.7 L590.0 71.1 L590.4 75.7 L590.9 70.8 L591.3 75.0 L591.8 69.3 L592.2 75.0 L592.7 70.5 L593.1 74.1 L593.6 69.5 L594.0 75.4 L594.5 70.3 L594.9 76.4 L595.4 70.4 L595.8 74.5 L596.3 70.0 L596.7 75.1 L597.2 69.6 L597.6 75.2 L598.1 70.6 L598.5 74.5 L599.0 70.8 L599.4 76.9 L599.9 71.3 L600.3 74.8 L600.8 69.5 L601.2 75.9 L601.7 70.7 L602.1 76.7 L602.6 71.7 L603.0 76.1 L603.5 71.3 L603.9 76.8 L604.4 71.1 L604.8 77.1 L605.3 70.7 L605.7 75.2 L606.2 71.7 L606.6 75.6 L607.1 71.6 L607.5 75.4 L608.0 71.7 L608.4 76.6 L608.9 71.1 L609.3 75.8 L609.8 71.6 L610.2 75.4 L610.7 70.7 L611.1 76.7 L611.6 72.8 L612.0 76.8 L612.5 72.3 L612.9 77.4 L613.4 73.2 L613.8 77.9 L614.3 74.3 L614.7 78.4 L615.2 74.5 L615.6 78.1 L616.1 74.0 L616.5 79.3 L617.0 74.7 L617.4 78.4 L617.9 74.3 L618.3 79.2 L618.8 74.4 L619.2 78.9 L619.7 74.4 L620.1 78.8 L620.6 75.1 L621.0 79.1 L621.5 74.2 L621.9 78.9 L622.4 74.5 L622.8 78.9 L623.3 74.7 L623.7 79.6 L624.2 73.2 L624.6 78.1 L625.1 73.9 L625.5 78.6 L626.0 75.2 L626.4 80.6 L626.9 74.8 L627.3 79.4 L627.8 74.2 L628.2 79.6 L628.7 75.4 L629.1 80.2 L629.6 75.1 L630.0 78.4 L630.5 73.7 L630.9 79.1 L631.4 74.2 L631.8 78.1 L632.3 73.5 L632.7 79.9 L633.2 73.8 L633.6 78.8 L634.1 73.6 L634.5 78.8 L635.0 74.7 L635.4 78.2 L635.9 73.8 L636.3 79.1 L636.8 75.0 L637.2 79.6 L637.7 74.7 L638.1 78.3 L638.6 74.5 L639.0 79.1 L639.5 75.3 L639.9 79.8 L640.4 75.3 L640.8 80.4 L641.3 75.5 L641.7 79.5 L642.2 76.0 L642.6 79.5 L643.1 75.7 L643.5 80.2 L644.0 76.6 L644.4 79.7 L644.9 76.8 L645.3 80.8 L645.8 76.1 L646.2 81.0 L646.7 75.7 L647.1 80.8 L647.6 76.2 L648.0 81.1 L648.5 76.7 L648.9 80.3 L649.4 76.3 L649.8 80.0 L650.3 76.3 L650.7 79.5 L651.2 75.6 L651.6 80.0 L652.1 76.6 L652.5 81.6 L653.0 75.7 L653.4 79.7 L653.9 76.2 L654.3 79.9 L654.8 75.8 L655.2 81.8 L655.7 75.8 L656.1 80.6 L656.6 76.9 L657.0 81.6 L657.5 77.1 L657.9 80.0 L658.4 76.8 L658.8 80.8 L659.3 76.1 L659.7 80.3 L660.2 77.5 L660.6 80.0 L661.1 75.7 L661.5 81.8 L662.0 75.9 L662.4 79.8 L662.9 76.1 L663.3 79.6 L663.8 75.1 L664.2 79.7 L664.7 75.1 L665.1 79.3 L665.6 73.8 L666.0 78.1 L666.5 74.0 L666.9 78.8 L667.4 72.5 L667.8 76.3 L668.3 72.3 L668.7 76.6 L669.2 72.5 L669.6 76.7 L670.1 71.7 L670.5 77.4 L671.0 72.0 L671.4 75.7 L671.9 71.3 L672.3 76.2 L672.8 71.2 L673.2 74.9 L673.7 71.8 L674.1 74.4 L674.6 71.0 L675.0 74.8 L675.5 70.6 L675.9 74.7 L676.4 69.5" fill="none" stroke="#ff00ff" stroke-width="2.0" stroke-linejoin="round" stroke-linecap="round"/><path d="M375.3 76.0 L376.4 73.9 L380.7 70.7 L386.0 72.9" fill="none" stroke="#ff00ff" stroke-width="6.5" stroke-linejoin="round" stroke-linecap="round"/><path d="M41.0 184.1 L41.5 183.6 L41.9 191.8 L42.4 189.5 L42.8 196.6 L43.3 193.7 L43.7 199.2 L44.2 196.2 L44.6 201.7 L45.1 199.3 L45.5 205.4 L46.0 201.6 L46.4 206.0 L46.9 202.6 L47.3 208.5 L47.8 205.5 L48.2 209.2 L48.7 205.1 L49.1 210.6 L49.6 208.0 L50.0 212.5 L50.5 208.1 L50.9 211.5 L51.4 208.1 L51.8 212.1 L52.3 209.3 L52.7 212.3 L53.2 208.1 L53.6 210.7 L54.1 203.1 L54.5 208.6 L55.0 204.4 L55.4 209.2 L55.9 205.4 L56.3 210.1 L56.8 207.4 L57.2 211.6 L57.7 208.5 L58.1 212.8 L58.6 209.1 L59.0 214.3 L59.5 209.1 L59.9 215.3 L60.4 211.1 L60.8 215.7 L61.3 210.8 L61.7 216.6 L62.2 212.8 L62.6 216.2 L63.1 212.5 L63.5 217.3 L64.0 214.0 L64.4 217.1 L64.9 213.3 L65.3 217.1 L65.8 213.0 L66.2 218.0 L66.7 213.5 L67.1 218.5 L67.6 213.9 L68.0 218.0 L68.5 213.5 L68.9 219.3 L69.4 213.7 L69.8 219.0 L70.3 213.6 L70.7 219.2 L71.2 213.9 L71.6 218.4 L72.1 213.9 L72.5 219.3 L73.0 215.0 L73.4 219.0 L73.9 213.6 L74.3 219.2 L74.8 214.0 L75.2 219.4 L75.7 214.9 L76.1 218.0 L76.6 212.9 L77.0 220.6 L77.5 215.0 L77.9 220.3 L78.4 214.4 L78.8 218.5 L79.3 213.8 L79.7 219.6 L80.2 215.2 L80.6 218.1 L81.1 214.2 L81.5 219.2 L82.0 215.4 L82.4 218.8 L82.9 215.4 L83.3 219.4 L83.8 214.8 L84.2 220.1 L84.7 215.0 L85.1 220.2 L85.6 216.0 L86.0 220.0 L86.5 215.1 L86.9 220.4 L87.4 215.6 L87.8 220.3 L88.3 216.3 L88.7 220.5 L89.2 215.4 L89.6 219.5 L90.1 215.8 L90.5 220.9 L91.0 216.0 L91.4 220.5 L91.9 215.3 L92.3 219.5 L92.8 216.7 L93.2 219.9 L93.7 215.7 L94.1 220.2 L94.6 215.7 L95.0 219.5 L95.5 214.9 L95.9 219.2 L96.4 214.4 L96.8 220.2 L97.3 215.8 L97.7 219.9 L98.2 214.3 L98.6 219.5 L99.1 215.9 L99.5 218.9 L100.0 215.7 L100.4 219.1 L100.9 213.4 L101.3 219.6 L101.8 215.3 L102.2 219.4 L102.7 212.8 L103.1 218.9 L103.6 213.5 L104.0 218.9 L104.5 213.7 L104.9 217.8 L105.4 213.4 L105.8 217.9 L106.3 213.3 L106.7 217.8 L107.2 214.2 L107.6 217.9 L108.1 212.9 L108.5 218.0 L109.0 213.7 L109.4 219.3 L109.9 212.5 L110.3 217.6 L110.8 213.7 L111.2 218.5 L111.7 214.1 L112.1 219.1 L112.6 214.6 L113.0 219.7 L113.5 215.7 L113.9 219.7 L114.4 215.4 L114.8 220.6 L115.3 215.4 L115.7 221.1 L116.2 217.4 L116.6 220.6 L117.1 214.9 L117.5 219.4 L118.0 215.5 L118.4 219.3 L118.9 214.0 L119.3 217.8 L119.8 213.2 L120.2 218.3 L120.7 211.5 L121.1 218.9 L121.6 212.8 L122.0 218.3 L122.5 213.9 L122.9 218.8 L123.4 213.8 L123.8 219.1 L124.3 214.8 L124.7 219.1 L125.2 214.3 L125.6 218.6 L126.1 214.3 L126.5 219.0 L127.0 213.0 L127.4 218.3 L127.9 212.5 L128.3 216.2 L128.8 211.5 L129.2 215.1 L129.7 211.8 L130.1 214.4 L130.6 211.3 L131.0 216.5 L131.5 213.8 L131.9 217.6 L132.4 214.3 L132.8 220.0 L133.3 216.5 L133.7 219.7 L134.2 215.1 L134.6 219.3 L135.1 214.5 L135.5 219.1 L136.0 213.9 L136.4 219.1 L136.9 214.7 L137.3 221.2 L137.8 215.5 L138.2 220.5 L138.7 216.6 L139.1 221.7 L139.6 217.4 L140.0 222.1 L140.5 217.2 L140.9 222.2 L141.4 218.8 L141.8 223.1 L142.3 218.6 L142.7 223.9 L143.2 220.6 L143.6 224.9 L144.1 220.9 L144.5 224.6 L145.0 221.0 L145.4 226.4 L145.9 221.2 L146.3 225.8 L146.8 221.1 L147.2 225.2 L147.7 221.8 L148.1 225.4 L148.6 220.2 L149.0 224.9 L149.5 218.6 L149.9 224.0 L150.3 218.4 L150.8 222.9 L151.2 219.0 L151.7 222.6 L152.1 217.7 L152.6 221.2 L153.0 216.7 L153.5 220.5 L153.9 216.3 L154.4 219.1 L154.8 213.8 L155.3 218.6 L155.7 213.2 L156.2 218.5 L156.6 211.9 L157.1 216.6 L157.5 209.8 L158.0 215.1 L158.4 211.2 L158.9 213.8 L159.3 210.0 L159.8 214.5 L160.2 210.8 L160.7 215.3 L161.1 210.3 L161.6 215.6 L162.0 210.7 L162.5 215.6 L162.9 210.6 L163.4 215.8 L163.8 212.3 L164.3 215.5 L164.7 212.5 L165.2 216.5 L165.6 211.3 L166.1 215.5 L166.5 211.9 L167.0 215.7 L167.4 211.5 L167.9 216.7 L168.3 210.1 L168.8 215.3 L169.2 212.2 L169.7 216.3 L170.1 212.1 L170.6 217.5 L171.0 213.8 L171.5 217.1 L171.9 214.4 L172.4 218.3 L172.8 213.7 L173.3 218.9 L173.7 214.9 L174.2 219.1 L174.6 215.4 L175.1 220.5 L175.5 214.6 L176.0 218.8 L176.4 215.6 L176.9 220.2 L177.3 214.8 L177.8 219.7 L178.2 215.1 L178.7 219.4 L179.1 215.1 L179.6 220.0 L180.0 214.9 L180.5 218.8 L180.9 215.3 L181.4 220.3 L181.8 214.5 L182.3 217.3 L182.7 213.7 L183.2 216.4 L183.6 212.0 L184.1 215.7 L184.5 210.4 L185.0 215.1 L185.4 209.6 L185.9 213.4 L186.3 208.3 L186.8 212.1 L187.2 206.6 L187.7 211.5 L188.1 206.6 L188.6 211.1 L189.0 206.8 L189.5 210.1 L189.9 206.0 L190.4 208.9 L190.8 205.9 L191.3 209.5 L191.7 203.7 L192.2 209.8 L192.6 205.3 L193.1 209.0 L193.5 204.8 L194.0 209.5 L194.4 203.7 L194.9 208.1 L195.3 202.5 L195.8 208.6 L196.2 201.8 L196.7 206.7 L197.1 202.3 L197.6 206.9 L198.0 200.2 L198.5 205.6 L198.9 201.1 L199.4 204.6 L199.8 201.1 L200.3 203.6 L200.7 199.6 L201.2 205.0 L201.6 198.6 L202.1 204.9 L202.5 201.2 L203.0 204.7 L203.4 200.1 L203.9 204.1 L204.3 199.3 L204.8 204.6 L205.2 199.4 L205.7 203.2 L206.1 197.5 L206.6 201.2 L207.0 197.4 L207.5 200.3 L207.9 197.7 L208.4 202.5 L208.8 199.1 L209.3 203.4 L209.7 200.3 L210.2 205.2 L210.6 200.5 L211.1 205.6 L211.5 202.0 L212.0 206.7 L212.4 202.6 L212.9 208.0 L213.3 204.1 L213.8 207.6 L214.2 202.3 L214.7 208.6 L215.1 204.3 L215.6 209.6 L216.0 204.7 L216.5 209.7 L216.9 205.1 L217.4 209.8 L217.8 205.5 L218.3 210.0 L218.7 207.4 L219.2 211.8 L219.6 207.0 L220.1 212.3 L220.5 208.0 L221.0 213.1 L221.4 208.3 L221.9 212.5 L222.3 208.9 L222.8 213.2 L223.2 208.9 L223.7 212.9 L224.1 207.2 L224.6 212.8 L225.0 208.4 L225.5 214.5 L225.9 207.9 L226.4 212.8 L226.8 209.2 L227.3 213.3 L227.7 208.9 L228.2 213.3 L228.6 208.7 L229.1 213.4 L229.5 207.3 L230.0 213.8 L230.4 208.8 L230.9 212.4 L231.3 209.6 L231.8 213.5 L232.2 208.4 L232.7 214.7 L233.1 209.2 L233.6 214.0 L234.0 209.7 L234.5 213.1 L234.9 209.2 L235.4 213.7 L235.8 208.5 L236.3 213.8 L236.7 209.0 L237.2 212.4 L237.6 208.5 L238.1 213.8 L238.5 208.5 L239.0 212.6 L239.4 208.0 L239.9 212.5 L240.3 208.9 L240.8 212.4 L241.2 208.7 L241.7 212.4 L242.1 209.2 L242.6 212.7 L243.0 208.2 L243.5 213.0 L243.9 208.2 L244.4 212.9 L244.8 209.1 L245.3 213.1 L245.7 208.9 L246.2 212.4 L246.6 209.0 L247.1 213.1 L247.5 209.3 L248.0 212.9 L248.4 207.4 L248.9 214.2 L249.3 209.4 L249.8 213.4 L250.2 209.4 L250.7 213.0 L251.1 208.5 L251.6 213.7 L252.0 208.3 L252.5 212.9 L252.9 209.2 L253.4 213.8 L253.8 209.9 L254.3 214.3 L254.7 210.5 L255.2 213.8 L255.6 210.6 L256.1 214.2 L256.5 209.3 L257.0 215.1 L257.4 210.2 L257.9 214.6 L258.3 211.4 L258.8 214.3 L259.2 211.1 L259.7 215.3 L260.1 211.5 L260.6 215.6 L261.0 211.1 L261.5 216.4 L261.9 211.6 L262.4 215.5 L262.8 210.8 L263.3 217.1 L263.7 212.1 L264.2 215.0 L264.6 210.9 L265.1 215.3 L265.5 209.9 L266.0 216.2 L266.4 212.0 L266.9 215.5 L267.3 212.0 L267.8 215.2 L268.2 211.4 L268.7 215.8 L269.1 212.3 L269.6 216.6 L270.0 211.0 L270.5 216.1 L270.9 210.7 L271.4 215.4 L271.8 212.1 L272.3 217.6 L272.7 211.4 L273.2 216.8 L273.6 212.5 L274.1 216.6 L274.5 212.2 L275.0 216.9 L275.4 211.6 L275.9 216.1 L276.3 211.7 L276.8 216.2 L277.2 212.3 L277.7 216.9 L278.1 212.4 L278.6 217.1 L279.0 211.3 L279.5 218.2 L279.9 212.2 L280.4 216.7 L280.8 210.7 L281.3 216.0 L281.7 212.1 L282.2 217.2 L282.6 211.7 L283.1 216.4 L283.5 213.1 L284.0 217.3 L284.4 212.5 L284.9 217.3 L285.3 212.6 L285.8 217.7 L286.2 212.4 L286.7 217.4 L287.1 212.3 L287.6 217.7 L288.0 212.9 L288.5 217.6 L288.9 211.2 L289.4 217.6 L289.8 212.5 L290.3 217.2 L290.7 212.7 L291.2 218.4 L291.6 214.2 L292.1 217.1 L292.5 213.9 L293.0 219.7 L293.4 213.3 L293.9 218.1 L294.3 213.8 L294.8 219.1 L295.2 213.8 L295.7 217.8 L296.1 214.5 L296.6 218.6 L297.0 213.9 L297.5 218.3 L297.9 215.3 L298.4 218.0 L298.8 214.8 L299.3 218.9 L299.7 214.8 L300.2 219.2 L300.6 214.6 L301.1 220.1 L301.5 214.4 L302.0 219.5 L302.4 214.1 L302.9 219.0 L303.3 215.0 L303.8 219.7 L304.2 214.9 L304.7 220.5 L305.1 214.8 L305.6 218.6 L306.0 215.0 L306.5 218.9 L306.9 215.2 L307.4 219.1 L307.8 213.2 L308.3 219.4 L308.7 213.6 L309.2 217.7 L309.6 214.5 L310.1 218.3 L310.5 213.5 L311.0 219.0 L311.4 212.9 L311.9 219.0 L312.3 214.2 L312.8 217.9 L313.2 212.3 L313.7 217.6 L314.1 214.2 L314.6 217.6 L315.0 213.5 L315.5 218.7 L315.9 213.3 L316.4 217.9 L316.8 213.2 L317.3 218.5 L317.7 214.0 L318.2 218.7 L318.6 212.6 L319.1 218.4 L319.5 213.3 L320.0 217.8 L320.4 213.8 L320.9 219.8 L321.3 214.7 L321.8 218.9 L322.2 213.5 L322.7 217.5 L323.1 214.0 L323.6 217.6 L324.0 214.6 L324.5 219.2 L324.9 215.0 L325.4 217.9 L325.8 214.3 L326.3 218.3 L326.7 214.3 L327.2 218.5 L327.6 214.5 L328.1 220.0 L328.5 214.3 L329.0 217.9 L329.4 214.0 L329.9 218.0 L330.3 213.9 L330.8 218.6 L331.2 214.1 L331.7 218.1 L332.1 214.2 L332.6 219.4 L333.0 214.7 L333.5 219.1 L333.9 215.0 L334.4 219.8 L334.8 214.1 L335.3 219.5 L335.7 215.5 L336.2 220.5 L336.6 215.2 L337.1 219.8 L337.5 214.6 L338.0 219.0 L338.4 216.4 L338.9 220.2 L339.3 215.2 L339.8 220.9 L340.2 215.8 L340.7 220.1 L341.1 217.2 L341.6 220.5 L342.0 215.5 L342.5 221.2 L342.9 217.5 L343.4 221.0" fill="none" stroke="#00ffff" stroke-width="2.0" stroke-linejoin="round" stroke-linecap="round"/><path d="M40.6 178.0 L41.6 188.0 L43.5 197.0 L46.0 204.0 L49.0 209.0 L53.0 211.0" fill="none" stroke="#00ffff" stroke-width="4.5" stroke-linejoin="round" stroke-linecap="round"/><path d="M41.8 174.6 L42.2 171.2 L42.7 178.4 L43.2 174.6 L43.6 180.0 L44.1 177.8 L44.5 184.1 L45.0 181.5 L45.4 187.7 L45.9 184.5 L46.3 192.7 L46.8 190.3 L47.2 194.6 L47.7 192.0 L48.1 198.7 L48.6 193.2 L49.0 200.4 L49.5 196.8 L49.9 200.9 L50.4 198.9 L50.8 203.1 L51.3 199.2 L51.7 205.4 L52.2 200.2 L52.6 204.9 L53.1 202.3 L53.5 206.4 L54.0 203.6 L54.4 207.0 L54.9 203.7 L55.3 208.7 L55.8 205.1 L56.2 210.2 L56.7 205.5 L57.1 211.5 L57.6 207.1 L58.0 213.0 L58.5 208.6 L58.9 212.3 L59.4 208.8 L59.8 213.5 L60.3 209.6 L60.7 214.4 L61.2 211.1 L61.6 215.0 L62.1 211.3 L62.5 215.6 L63.0 211.1 L63.4 216.8 L63.9 212.1 L64.3 217.5 L64.8 212.5 L65.2 216.5 L65.7 212.7 L66.1 216.9 L66.6 213.1 L67.0 216.9 L67.5 214.4 L67.9 217.8 L68.4 214.6 L68.8 217.6 L69.3 213.8 L69.7 219.7 L70.2 213.4 L70.6 217.2 L71.1 213.2 L71.5 217.7 L72.0 213.3 L72.4 218.3 L72.9 214.6 L73.3 218.5 L73.8 213.8 L74.2 219.1 L74.7 213.5 L75.1 219.9 L75.6 214.6 L76.0 217.9 L76.5 213.5 L76.9 218.2 L77.4 214.4 L77.8 218.7 L78.3 212.5 L78.7 217.8 L79.2 214.4 L79.6 218.6 L80.1 213.5 L80.5 218.0 L81.0 214.7 L81.4 219.6 L81.9 213.7 L82.3 218.0 L82.8 214.2 L83.2 220.1 L83.7 213.0 L84.1 218.5 L84.6 214.6 L85.0 219.7 L85.5 214.9 L85.9 219.7 L86.4 214.5 L86.8 219.6 L87.3 214.3 L87.7 219.8 L88.2 215.0 L88.6 219.0 L89.1 215.6 L89.5 219.6 L90.0 215.0 L90.4 220.4 L90.9 214.9 L91.3 220.1 L91.8 214.8 L92.2 221.0 L92.7 215.3 L93.1 218.9 L93.6 215.8 L94.0 219.2 L94.5 214.8 L94.9 218.8 L95.4 215.5 L95.8 219.6 L96.3 214.8 L96.7 219.3 L97.2 213.7 L97.6 218.4 L98.1 214.7 L98.5 219.5 L99.0 214.4 L99.4 219.1 L99.9 214.0 L100.3 218.0 L100.8 214.4 L101.2 217.9 L101.7 214.4 L102.1 218.1 L102.6 214.1 L103.0 218.7 L103.5 214.0 L103.9 218.8 L104.4 212.3 L104.8 218.1 L105.3 211.5 L105.7 217.1 L106.2 212.9 L106.6 217.1 L107.1 213.4 L107.5 216.5 L108.0 212.5 L108.4 218.0 L108.9 213.3 L109.3 217.0 L109.8 212.8 L110.2 217.9 L110.7 213.1 L111.1 219.7 L111.6 214.5 L112.0 217.7 L112.5 214.0 L112.9 218.7 L113.4 214.3 L113.8 219.0 L114.3 214.6 L114.7 221.0 L115.2 215.9 L115.6 220.9 L116.1 217.0 L116.5 221.0 L117.0 214.4 L117.4 219.6 L117.9 215.3 L118.3 220.1 L118.8 214.7 L119.2 217.9 L119.7 213.7 L120.1 218.0 L120.6 213.2 L121.0 217.5 L121.5 211.4 L121.9 218.5 L122.4 213.2 L122.8 218.2 L123.3 212.7 L123.7 217.7 L124.2 213.2 L124.6 219.0 L125.1 213.9 L125.5 218.9 L126.0 213.8 L126.4 218.7 L126.9 214.7 L127.3 220.8 L127.8 214.9 L128.2 220.2 L128.7 213.6 L129.1 219.7 L129.6 213.6 L130.0 219.0 L130.5 212.7 L130.9 217.3 L131.4 213.0 L131.8 218.0 L132.3 213.2 L132.7 217.8 L133.2 213.2 L133.6 218.4 L134.1 214.1 L134.5 217.8 L135.0 212.8 L135.4 218.3 L135.9 214.0 L136.3 219.2 L136.8 215.3 L137.2 219.5 L137.7 214.9 L138.1 219.6 L138.6 215.1 L139.0 220.8 L139.5 216.7 L139.9 219.6 L140.4 216.0 L140.8 220.7 L141.3 217.2 L141.7 221.6 L142.2 216.1 L142.6 223.0 L143.1 217.4 L143.5 222.2 L144.0 218.0 L144.4 222.2 L144.9 217.8 L145.3 222.2 L145.8 219.5 L146.2 223.6 L146.7 218.8 L147.1 225.4 L147.6 219.7 L148.0 225.3 L148.5 219.1 L148.9 222.9 L149.3 218.6 L149.8 222.7 L150.2 218.1 L150.7 223.2 L151.1 219.1 L151.6 223.0 L152.0 218.6 L152.5 222.8 L152.9 217.2 L153.4 221.4 L153.8 217.2 L154.3 219.9 L154.7 216.3 L155.2 218.8 L155.6 214.6 L156.1 220.4 L156.5 214.0 L157.0 219.5 L157.4 213.9 L157.9 217.3 L158.3 212.8 L158.8 217.5 L159.2 213.1 L159.7 217.3 L160.1 213.7 L160.6 217.7 L161.0 214.2 L161.5 218.6 L161.9 213.2 L162.4 217.4 L162.8 213.3 L163.3 217.5 L163.7 213.9 L164.2 218.7 L164.6 214.6 L165.1 217.7 L165.5 213.4 L166.0 218.2 L166.4 213.8 L166.9 219.2 L167.3 214.5 L167.8 218.6 L168.2 214.2 L168.7 217.5 L169.1 213.4 L169.6 218.5 L170.0 213.4 L170.5 218.7 L170.9 214.5 L171.4 220.1 L171.8 214.0 L172.3 218.8 L172.7 215.3 L173.2 219.3 L173.6 214.7 L174.1 218.7 L174.5 215.2 L175.0 220.0 L175.4 215.5 L175.9 218.9 L176.3 216.1 L176.8 220.4 L177.2 215.7 L177.7 221.5 L178.1 214.0 L178.6 220.4 L179.0 216.0 L179.5 220.4 L179.9 215.5 L180.4 219.6 L180.8 216.0 L181.3 222.3 L181.7 216.6 L182.2 221.0 L182.6 214.2 L183.1 219.7 L183.5 214.2 L184.0 219.0 L184.4 213.0 L184.9 217.7 L185.3 212.3 L185.8 216.9 L186.2 212.1 L186.7 216.3 L187.1 211.3 L187.6 215.9 L188.0 210.8 L188.5 213.8 L188.9 208.6 L189.4 213.3 L189.8 208.3 L190.3 212.1 L190.7 208.0 L191.2 211.6 L191.6 207.3 L192.1 211.1 L192.5 208.1 L193.0 210.9 L193.4 207.8 L193.9 211.3 L194.3 207.0 L194.8 211.0 L195.2 207.0 L195.7 210.4 L196.1 206.0 L196.6 211.5 L197.0 205.6 L197.5 209.0 L197.9 204.9 L198.4 208.2 L198.8 203.9 L199.3 207.4 L199.7 202.9 L200.2 207.2 L200.6 201.6 L201.1 206.5 L201.5 202.6 L202.0 207.9 L202.4 203.5 L202.9 207.0 L203.3 203.3 L203.8 208.4 L204.2 203.3 L204.7 207.2 L205.1 202.7 L205.6 206.3 L206.0 199.2 L206.5 205.0 L206.9 199.7 L207.4 202.9 L207.8 200.1 L208.3 204.4 L208.7 199.8 L209.2 206.0 L209.6 202.4 L210.1 207.1 L210.5 202.4 L211.0 207.3 L211.4 203.8 L211.9 207.4 L212.3 203.0 L212.8 208.6 L213.2 203.7 L213.7 208.8 L214.1 203.9 L214.6 209.9 L215.0 204.5 L215.5 208.6 L215.9 205.3 L216.4 209.1 L216.8 204.0 L217.3 211.2 L217.7 205.2 L218.2 210.6 L218.6 204.9 L219.1 211.4 L219.5 207.6 L220.0 212.7 L220.4 208.2 L220.9 212.9 L221.3 209.6 L221.8 212.6 L222.2 207.8 L222.7 213.3 L223.1 207.9 L223.6 214.6 L224.0 208.6 L224.5 212.0 L224.9 208.5 L225.4 214.1 L225.8 208.8 L226.3 212.1 L226.7 208.1 L227.2 213.2 L227.6 208.0 L228.1 213.3 L228.5 208.0 L229.0 212.4 L229.4 207.8 L229.9 212.6 L230.3 208.3 L230.8 213.4 L231.2 208.8 L231.7 213.3 L232.1 208.0 L232.6 214.7 L233.0 209.5 L233.5 212.7 L233.9 208.3 L234.4 212.9 L234.8 208.5 L235.3 213.0 L235.7 208.6 L236.2 214.3 L236.6 207.8 L237.1 212.8 L237.5 207.1 L238.0 213.2 L238.4 208.8 L238.9 213.0 L239.3 207.7 L239.8 212.3 L240.2 207.9 L240.7 212.3 L241.1 208.4 L241.6 212.1 L242.0 207.9 L242.5 212.8 L242.9 209.1 L243.4 212.2 L243.8 207.6 L244.3 211.8 L244.7 208.8 L245.2 213.6 L245.6 208.2 L246.1 212.3 L246.5 208.4 L247.0 213.9 L247.4 207.0 L247.9 212.4 L248.3 208.2 L248.8 212.9 L249.2 208.9 L249.7 213.9 L250.1 208.8 L250.6 213.4 L251.0 208.1 L251.5 212.5 L251.9 208.7 L252.4 213.0 L252.8 209.2 L253.3 212.6 L253.7 208.4 L254.2 213.2 L254.6 210.0 L255.1 215.1 L255.5 209.9 L256.0 212.9 L256.4 208.4 L256.9 213.8 L257.3 209.8 L257.8 214.8 L258.2 209.5 L258.7 214.7 L259.1 210.9 L259.6 214.3 L260.0 210.3 L260.5 215.2 L260.9 208.9 L261.4 214.9 L261.8 210.9 L262.3 214.7 L262.7 210.4 L263.2 214.6 L263.6 211.5 L264.1 215.0 L264.5 210.9 L265.0 215.0 L265.4 211.4 L265.9 214.6 L266.3 211.1 L266.8 214.6 L267.2 211.0 L267.7 215.5 L268.1 209.1 L268.6 216.4 L269.0 210.9 L269.5 214.9 L269.9 209.4 L270.4 215.9 L270.8 210.7 L271.3 217.0 L271.7 211.5 L272.2 215.7 L272.6 210.5 L273.1 216.2 L273.5 211.1 L274.0 215.8 L274.4 211.2 L274.9 215.1 L275.3 210.8 L275.8 216.0 L276.2 211.3 L276.7 216.9 L277.1 210.7 L277.6 216.7 L278.0 209.8 L278.5 216.2 L278.9 211.8 L279.4 215.6 L279.8 210.8 L280.3 216.6 L280.7 209.9 L281.2 215.5 L281.6 211.3 L282.1 216.2 L282.5 210.0 L283.0 216.4 L283.4 211.3 L283.9 215.4 L284.3 211.3 L284.8 215.4 L285.2 211.0 L285.7 216.0 L286.1 211.2 L286.6 216.5 L287.0 212.1 L287.5 216.9 L287.9 212.0 L288.4 215.9 L288.8 212.2 L289.3 216.1 L289.7 211.5 L290.2 216.0 L290.6 211.9 L291.1 218.0 L291.5 212.0 L292.0 218.1 L292.4 213.0 L292.9 216.9 L293.3 212.7 L293.8 217.8 L294.2 213.3 L294.7 216.7 L295.1 212.5 L295.6 217.4 L296.0 212.8 L296.5 218.4 L296.9 214.1 L297.4 218.7 L297.8 213.4 L298.3 217.2 L298.7 212.6 L299.2 217.1 L299.6 211.9 L300.1 218.4 L300.5 213.8 L301.0 219.6 L301.4 214.0 L301.9 218.7 L302.3 213.3 L302.8 218.2 L303.2 214.1 L303.7 217.5 L304.1 213.3 L304.6 219.5 L305.0 213.0 L305.5 217.9 L305.9 213.0 L306.4 217.3 L306.8 212.0 L307.3 218.2 L307.7 213.7 L308.2 217.7 L308.6 213.2 L309.1 217.7 L309.5 213.0 L310.0 218.3 L310.4 213.2 L310.9 217.3 L311.3 212.2 L311.8 217.0 L312.2 212.2 L312.7 217.4 L313.1 213.0 L313.6 217.6 L314.0 213.4 L314.5 217.0 L314.9 212.8 L315.4 217.7 L315.8 212.3 L316.3 218.0 L316.7 212.9 L317.2 217.0 L317.6 212.4 L318.1 216.6 L318.5 211.1 L319.0 217.4 L319.4 213.0 L319.9 217.4 L320.3 212.0 L320.8 218.1 L321.2 212.9 L321.7 216.5 L322.1 213.5 L322.6 217.5 L323.0 212.4 L323.5 218.5 L323.9 213.6 L324.4 216.7 L324.8 212.5 L325.3 218.0 L325.7 213.5 L326.2 218.8 L326.6 212.8 L327.1 218.1 L327.5 212.6 L328.0 217.7 L328.4 213.3 L328.9 217.8 L329.3 213.5 L329.8 216.4 L330.2 213.3 L330.7 217.6 L331.1 211.6 L331.6 218.9 L332.0 212.3 L332.5 217.3 L332.9 212.4 L333.4 217.5 L333.8 211.9 L334.3 217.5 L334.7 213.5 L335.2 217.5 L335.6 213.0 L336.1 218.5 L336.5 213.7 L337.0 218.6 L337.4 214.5 L337.9 218.5 L338.3 212.8 L338.8 218.4 L339.2 214.0 L339.7 218.9 L340.1 215.1 L340.6 219.1 L341.0 213.3 L341.5 219.6 L341.9 215.4 L342.4 219.9 L342.8 213.8 L343.3 218.9" fill="none" stroke="#ff0000" stroke-width="2.0" stroke-linejoin="round" stroke-linecap="round"/><path d="M41.8 172.5 L44.1 180.4 L45.8 188.2 L48.0 195.9 L51.5 202.3 L55.1 206.2 L58.0 210.0 L61.0 213.0 L64.0 215.0" fill="none" stroke="#ff0000" stroke-width="5.2" stroke-linejoin="round" stroke-linecap="round"/><path d="M376.0 221.7 L376.4 215.5 L376.9 218.5 L377.3 212.8 L377.8 218.5 L378.2 213.8 L378.7 217.0 L379.1 212.8 L379.6 217.3 L380.0 213.0 L380.5 216.4 L380.9 214.0 L381.4 218.6 L381.8 213.5 L382.3 219.2 L382.7 212.6 L383.2 217.9 L383.6 214.6 L384.1 217.2 L384.5 213.0 L385.0 217.1 L385.4 213.7 L385.9 217.9 L386.3 213.5 L386.8 217.1 L387.2 211.4 L387.7 217.0 L388.1 211.6 L388.6 215.4 L389.0 210.2 L389.5 213.9 L389.9 211.2 L390.4 214.2 L390.8 209.1 L391.3 214.4 L391.7 210.6 L392.2 216.2 L392.6 211.9 L393.1 215.6 L393.5 212.3 L394.0 218.3 L394.4 213.0 L394.9 217.2 L395.3 213.2 L395.8 218.9 L396.2 214.3 L396.7 218.9 L397.1 214.1 L397.6 218.8 L398.0 215.4 L398.5 219.6 L398.9 214.8 L399.4 219.5 L399.8 215.4 L400.3 221.1 L400.7 215.8 L401.2 219.9 L401.6 215.0 L402.1 220.7 L402.5 215.9 L403.0 219.9 L403.4 216.3 L403.9 221.3 L404.3 216.4 L404.8 220.4 L405.2 217.8 L405.7 222.1 L406.1 218.0 L406.6 221.0 L407.0 218.1 L407.5 222.2 L407.9 218.7 L408.4 222.2 L408.8 216.7 L409.3 222.0 L409.7 217.0 L410.2 222.4 L410.6 217.2 L411.1 221.8 L411.5 218.2 L412.0 220.8 L412.4 217.5 L412.9 222.2 L413.3 216.1 L413.8 221.9 L414.2 216.9 L414.7 222.1 L415.1 218.6 L415.6 222.7 L416.0 217.3 L416.5 222.3 L416.9 219.1 L417.4 223.3 L417.8 217.5 L418.3 222.5 L418.7 219.2 L419.2 223.1 L419.6 217.2 L420.1 223.4 L420.5 218.1 L421.0 222.5 L421.4 219.3 L421.9 223.2 L422.3 218.4 L422.8 222.7 L423.2 217.6 L423.7 222.3 L424.1 218.8 L424.6 223.1 L425.0 218.4 L425.5 223.3 L425.9 216.7 L426.4 221.7 L426.8 217.5 L427.3 222.9 L427.7 217.6 L428.2 223.5 L428.6 217.8 L429.1 221.9 L429.5 217.7 L430.0 221.5 L430.4 216.4 L430.9 220.8 L431.3 216.6 L431.8 220.9 L432.2 215.6 L432.7 219.0 L433.1 215.0 L433.6 220.1 L434.0 215.2 L434.5 219.4 L434.9 213.9 L435.4 218.1 L435.8 213.9 L436.3 219.3 L436.7 213.3 L437.2 217.5 L437.6 214.3 L438.1 216.8 L438.5 213.4 L439.0 218.3 L439.4 212.7 L439.9 216.8 L440.3 213.3 L440.8 218.0 L441.2 212.6 L441.7 218.9 L442.1 213.5 L442.6 218.0 L443.0 213.0 L443.5 217.8 L443.9 214.5 L444.4 218.3 L444.8 214.4 L445.3 218.8 L445.7 214.2 L446.2 218.6 L446.6 214.8 L447.1 218.8 L447.5 215.3 L448.0 219.0 L448.4 215.3 L448.9 220.5 L449.3 213.4 L449.8 219.2 L450.2 215.5 L450.7 218.4 L451.1 214.8 L451.6 217.9 L452.0 213.6 L452.5 218.2 L452.9 214.2 L453.4 217.4 L453.8 212.4 L454.3 217.7 L454.7 211.4 L455.2 217.0 L455.6 212.9 L456.1 216.7 L456.5 211.9 L457.0 217.7 L457.4 213.2 L457.9 216.9 L458.3 212.2 L458.8 216.7 L459.2 213.0 L459.7 217.4 L460.1 212.0 L460.6 216.3 L461.0 212.2 L461.5 216.3 L461.9 210.7 L462.4 215.4 L462.8 210.5 L463.3 215.1 L463.7 210.5 L464.2 214.1 L464.6 210.0 L465.1 212.4 L465.5 208.8 L466.0 212.9 L466.4 209.4 L466.9 214.7 L467.3 210.7 L467.8 215.8 L468.2 211.6 L468.7 217.0 L469.1 213.1 L469.6 218.1 L470.0 214.6 L470.5 219.4 L470.9 214.6 L471.4 220.0 L471.8 214.9 L472.3 221.4 L472.7 214.7 L473.2 220.6 L473.6 218.0 L474.1 222.2 L474.5 217.7 L475.0 221.9 L475.4 218.4 L475.9 223.4 L476.3 219.5 L476.8 224.1 L477.2 220.0 L477.7 225.2 L478.1 220.6 L478.6 225.6 L479.0 220.4 L479.5 224.8 L479.9 219.6 L480.4 226.6 L480.8 220.7 L481.3 225.0 L481.7 219.5 L482.2 222.9 L482.6 218.2 L483.1 221.9 L483.5 217.5 L484.0 221.1 L484.4 215.8 L484.9 220.9 L485.3 216.2 L485.8 219.4 L486.2 215.0 L486.7 218.8 L487.1 214.9 L487.6 218.8 L488.0 213.7 L488.5 217.6 L488.9 214.0 L489.4 218.6 L489.8 213.9 L490.3 217.8 L490.7 213.4 L491.2 218.2 L491.6 214.7 L492.1 220.6 L492.5 214.7 L493.0 219.9 L493.4 215.4 L493.9 220.1 L494.3 216.9 L494.8 221.5 L495.2 217.0 L495.7 222.2 L496.1 216.8 L496.6 221.1 L497.0 217.2 L497.5 220.7 L497.9 216.3 L498.4 220.0 L498.8 216.5 L499.3 221.0 L499.7 214.9 L500.2 220.9 L500.6 215.9 L501.1 222.0 L501.5 216.8 L502.0 221.5 L502.4 216.5 L502.9 222.1 L503.3 217.7 L503.8 222.3 L504.2 218.0 L504.7 222.2 L505.1 217.7 L505.6 221.5 L506.0 217.8 L506.5 221.4 L506.9 218.5 L507.4 222.1 L507.8 216.7 L508.3 221.3 L508.7 216.6 L509.2 221.4 L509.6 216.8 L510.1 220.9 L510.5 216.0 L511.0 220.4 L511.4 215.6 L511.9 220.3 L512.3 216.6 L512.8 220.9 L513.2 216.3 L513.7 220.7 L514.1 217.1 L514.6 220.2 L515.0 216.2 L515.5 220.0 L515.9 216.2 L516.4 220.1 L516.8 214.8 L517.3 217.6 L517.7 211.9 L518.2 215.9 L518.6 211.6 L519.1 213.8 L519.5 209.5 L520.0 213.2 L520.4 208.1 L520.9 212.7 L521.3 206.4 L521.8 212.2 L522.2 206.0 L522.7 211.4 L523.1 206.5 L523.6 211.9 L524.0 207.3 L524.5 211.4 L524.9 206.7 L525.4 211.8 L525.8 207.1 L526.3 212.6 L526.7 206.7 L527.2 211.2 L527.6 205.9 L528.1 210.3 L528.5 206.2 L529.0 208.7 L529.4 203.7 L529.9 207.8 L530.3 203.8 L530.8 206.8 L531.2 202.5 L531.7 206.6 L532.1 203.4 L532.6 206.3 L533.0 201.9 L533.5 205.7 L533.9 202.7 L534.4 206.4 L534.8 201.0 L535.3 205.8 L535.7 200.3 L536.2 204.6 L536.6 199.7 L537.1 204.9 L537.5 200.0 L538.0 203.0 L538.4 198.0 L538.9 203.6 L539.3 198.3 L539.8 201.7 L540.2 196.0 L540.7 201.2 L541.1 197.9 L541.6 203.1 L542.0 198.2 L542.5 204.1 L542.9 199.9 L543.4 204.7 L543.8 201.4 L544.3 205.5 L544.7 200.1 L545.2 205.3 L545.6 202.3 L546.1 207.1 L546.6 203.4 L547.0 207.7 L547.5 203.1 L547.9 207.5 L548.4 204.2 L548.8 209.5 L549.3 205.1 L549.7 209.3 L550.2 205.2 L550.6 210.9 L551.1 206.3 L551.5 211.5 L552.0 207.1 L552.4 212.9 L552.9 208.4 L553.3 213.7 L553.8 208.5 L554.2 215.3 L554.7 210.4 L555.1 215.3 L555.6 210.6 L556.0 215.7 L556.5 210.8 L556.9 214.9 L557.4 210.0 L557.8 215.0 L558.3 210.9 L558.7 215.9 L559.2 210.9 L559.6 215.7 L560.1 210.5 L560.5 216.2 L561.0 210.6 L561.4 214.6 L561.9 211.6 L562.3 214.6 L562.8 211.6 L563.2 214.8 L563.7 211.1 L564.1 215.8 L564.6 211.3 L565.0 215.7 L565.5 211.5 L565.9 215.7 L566.4 212.5 L566.8 216.0 L567.3 210.3 L567.7 215.9 L568.2 210.9 L568.6 216.3 L569.1 212.1 L569.5 215.0 L570.0 211.5 L570.4 215.7 L570.9 210.7 L571.3 214.8 L571.8 211.1 L572.2 216.2 L572.7 210.5 L573.1 215.4 L573.6 211.6 L574.0 214.8 L574.5 210.2 L574.9 214.2 L575.4 209.9 L575.8 214.4 L576.3 209.0 L576.7 214.4 L577.2 208.9 L577.6 214.1 L578.1 209.8 L578.5 213.7 L579.0 209.7 L579.4 214.5 L579.9 210.3 L580.3 214.4 L580.8 209.2 L581.2 214.5 L581.7 209.0 L582.1 214.2 L582.6 209.6 L583.0 214.1 L583.5 209.0 L583.9 213.9 L584.4 210.3 L584.8 213.2 L585.3 209.7 L585.7 214.6 L586.2 209.1 L586.6 213.6 L587.1 209.8 L587.5 214.7 L588.0 210.2 L588.4 215.2 L588.9 210.0 L589.3 215.6 L589.8 211.2 L590.2 215.2 L590.7 211.7 L591.1 215.6 L591.6 211.2 L592.0 215.2 L592.5 211.2 L592.9 216.0 L593.4 210.5 L593.8 215.8 L594.3 210.0 L594.7 216.0 L595.2 211.4 L595.6 215.7 L596.1 211.3 L596.5 215.6 L597.0 211.3 L597.4 214.9 L597.9 210.8 L598.3 214.6 L598.8 211.0 L599.2 215.2 L599.7 211.4 L600.1 217.0 L600.6 212.0 L601.0 215.6 L601.5 211.2 L601.9 216.5 L602.4 210.9 L602.8 216.1 L603.3 211.9 L603.7 215.9 L604.2 212.2 L604.6 216.2 L605.1 211.8 L605.5 215.4 L606.0 212.1 L606.4 215.8 L606.9 212.3 L607.3 216.5 L607.8 210.6 L608.2 215.9 L608.7 212.2 L609.1 215.6 L609.6 211.9 L610.0 217.1 L610.5 212.3 L610.9 215.7 L611.4 210.9 L611.8 216.1 L612.3 212.9 L612.7 216.7 L613.2 213.2 L613.6 218.5 L614.1 213.4 L614.5 216.6 L615.0 212.8 L615.4 216.4 L615.9 212.7 L616.3 217.0 L616.8 212.5 L617.2 218.3 L617.7 212.6 L618.1 217.2 L618.6 214.0 L619.0 218.6 L619.5 212.8 L619.9 217.6 L620.4 213.3 L620.8 217.4 L621.3 213.2 L621.7 217.5 L622.2 213.8 L622.6 217.6 L623.1 214.2 L623.5 217.6 L624.0 214.0 L624.4 218.1 L624.9 213.8 L625.3 218.4 L625.8 213.9 L626.2 217.6 L626.7 213.8 L627.1 218.0 L627.6 214.1 L628.0 219.1 L628.5 214.0 L628.9 218.8 L629.4 213.7 L629.8 218.9 L630.3 212.9 L630.7 219.2 L631.2 214.6 L631.6 217.9 L632.1 214.9 L632.5 218.5 L633.0 213.9 L633.4 220.1 L633.9 214.4 L634.3 219.3 L634.8 213.3 L635.2 218.5 L635.7 214.7 L636.1 218.7 L636.6 214.9 L637.0 217.8 L637.5 212.7 L637.9 218.0 L638.4 213.7 L638.8 217.5 L639.3 213.6 L639.7 218.4 L640.2 213.6 L640.6 218.0 L641.1 214.1 L641.5 218.5 L642.0 212.9 L642.4 218.6 L642.9 214.0 L643.3 218.3 L643.8 214.8 L644.2 217.6 L644.7 213.9 L645.1 217.5 L645.6 213.6 L646.0 217.6 L646.5 214.1 L646.9 218.4 L647.4 213.3 L647.8 218.1 L648.3 214.5 L648.7 217.9 L649.2 214.5 L649.6 218.3 L650.1 214.0 L650.5 218.5 L651.0 213.7 L651.4 217.4 L651.9 214.7 L652.3 218.3 L652.8 213.5 L653.2 218.7 L653.7 212.6 L654.1 218.4 L654.6 214.0 L655.0 218.8 L655.5 214.6 L655.9 218.6 L656.4 213.3 L656.8 217.7 L657.3 214.0 L657.7 218.7 L658.2 213.4 L658.6 217.9 L659.1 214.5 L659.5 217.9 L660.0 214.1 L660.4 218.8 L660.9 213.5 L661.3 217.5 L661.8 213.7 L662.2 219.0 L662.7 213.8 L663.1 219.4 L663.6 213.8 L664.0 217.9 L664.5 213.7 L664.9 217.8 L665.4 214.8 L665.8 218.5 L666.3 213.9 L666.7 218.6 L667.2 214.8 L667.6 219.0 L668.1 214.5 L668.5 219.4 L669.0 214.4 L669.4 219.3 L669.9 215.4 L670.3 220.6 L670.8 214.9 L671.2 220.1 L671.7 213.6 L672.1 219.5 L672.6 214.9 L673.0 219.5 L673.5 215.3 L673.9 220.4 L674.4 215.6 L674.8 220.7 L675.3 216.2 L675.7 221.3 L676.2 216.4" fill="none" stroke="#00ff00" stroke-width="2.0" stroke-linejoin="round" stroke-linecap="round"/><path d="M374.0 204.5 L374.3 211.0 L374.9 216.5 L376.0 218.5 L378.0 215.5 L380.0 215.0 L383.0 216.0 L386.0 215.5 L388.0 214.0" fill="none" stroke="#00ff00" stroke-width="5.2" stroke-linejoin="round" stroke-linecap="round"/><path d="M376.5 203.9 L376.9 199.4 L377.4 204.7 L377.8 199.9 L378.3 205.6 L378.7 202.7 L379.2 207.1 L379.6 203.9 L380.1 209.2 L380.5 206.1 L381.0 210.3 L381.4 205.7 L381.9 210.6 L382.3 207.4 L382.8 211.8 L383.2 207.1 L383.7 212.6 L384.1 207.1 L384.6 211.7 L385.0 207.8 L385.5 212.8 L385.9 208.0 L386.4 213.5 L386.8 208.7 L387.3 213.9 L387.7 209.5 L388.2 213.5 L388.6 209.7 L389.1 213.0 L389.5 209.8 L390.0 213.8 L390.4 208.4 L390.9 214.3 L391.3 209.7 L391.8 215.1 L392.2 211.1 L392.7 216.2 L393.1 211.0 L393.6 215.5 L394.0 212.1 L394.5 216.8 L394.9 213.5 L395.4 217.6 L395.8 213.3 L396.3 218.9 L396.7 214.5 L397.2 218.3 L397.6 214.2 L398.1 219.1 L398.5 215.1 L399.0 219.5 L399.4 215.4 L399.9 218.7 L400.3 215.5 L400.8 221.0 L401.2 214.8 L401.7 219.4 L402.1 216.0 L402.6 220.3 L403.0 215.0 L403.5 220.7 L403.9 216.1 L404.4 220.2 L404.8 217.2 L405.3 220.9 L405.7 217.0 L406.2 220.6 L406.6 216.4 L407.1 220.9 L407.5 215.9 L408.0 221.7 L408.4 217.7 L408.9 222.2 L409.3 217.0 L409.8 221.4 L410.2 217.4 L410.7 222.2 L411.1 217.1 L411.6 221.4 L412.0 216.7 L412.5 221.4 L412.9 217.5 L413.4 221.9 L413.8 216.6 L414.3 221.5 L414.7 217.3 L415.2 222.2 L415.6 217.5 L416.1 223.2 L416.5 217.7 L417.0 223.7 L417.4 218.5 L417.9 222.6 L418.3 218.2 L418.8 222.1 L419.2 219.0 L419.7 222.7 L420.1 218.1 L420.6 223.8 L421.0 218.5 L421.5 222.4 L421.9 218.6 L422.4 222.7 L422.8 217.6 L423.3 222.3 L423.7 217.9 L424.2 223.8 L424.6 218.3 L425.1 223.0 L425.5 217.3 L426.0 221.4 L426.4 217.7 L426.9 221.6 L427.3 218.2 L427.8 220.9 L428.2 216.6 L428.7 222.1 L429.1 216.3 L429.6 220.7 L430.0 215.9 L430.5 220.5 L430.9 215.9 L431.4 220.1 L431.8 216.1 L432.3 220.2 L432.7 214.5 L433.2 219.3 L433.6 213.0 L434.1 219.4 L434.5 214.4 L435.0 218.1 L435.4 213.0 L435.9 218.0 L436.3 213.8 L436.8 216.9 L437.2 212.8 L437.7 216.8 L438.1 212.1 L438.6 218.5 L439.0 213.7 L439.5 217.3 L439.9 213.2 L440.4 217.8 L440.8 212.1 L441.3 216.8 L441.7 212.8 L442.2 216.4 L442.6 212.7 L443.1 217.9 L443.5 213.9 L444.0 218.8 L444.4 213.2 L444.9 217.6 L445.3 213.1 L445.8 218.4 L446.2 213.8 L446.7 218.9 L447.1 214.6 L447.6 218.7 L448.0 215.5 L448.5 218.7 L448.9 215.0 L449.4 218.7 L449.8 214.2 L450.3 218.3 L450.7 213.4 L451.2 218.1 L451.6 214.0 L452.1 216.9 L452.5 213.9 L453.0 218.7 L453.4 212.7 L453.9 216.7 L454.3 212.0 L454.8 216.8 L455.2 211.9 L455.7 218.4 L456.1 213.0 L456.6 217.8 L457.0 212.4 L457.5 217.1 L457.9 211.4 L458.4 215.8 L458.8 212.1 L459.3 216.0 L459.7 211.7 L460.2 217.4 L460.6 212.6 L461.1 215.6 L461.5 210.9 L462.0 216.0 L462.4 211.3 L462.9 215.7 L463.3 211.2 L463.8 216.2 L464.2 211.0 L464.7 215.3 L465.1 210.6 L465.6 215.8 L466.0 210.7 L466.5 215.7 L466.9 211.4 L467.4 215.5 L467.8 211.6 L468.3 216.0 L468.7 212.5 L469.2 216.7 L469.6 211.0 L470.1 217.1 L470.5 212.5 L471.0 218.4 L471.4 212.4 L471.9 217.6 L472.3 214.3 L472.8 218.7 L473.2 215.0 L473.7 219.3 L474.1 215.1 L474.6 220.6 L475.0 215.1 L475.5 219.6 L475.9 216.5 L476.4 220.2 L476.8 217.0 L477.3 220.9 L477.7 217.0 L478.2 222.8 L478.6 217.0 L479.1 222.7 L479.5 216.8 L480.0 223.2 L480.4 218.8 L480.9 222.7 L481.3 219.2 L481.8 223.2 L482.2 218.1 L482.7 221.6 L483.1 216.4 L483.6 221.8 L484.0 216.3 L484.5 220.8 L484.9 214.8 L485.4 219.0 L485.8 214.4 L486.3 218.4 L486.7 215.0 L487.2 219.2 L487.6 214.0 L488.1 218.5 L488.5 213.6 L489.0 217.4 L489.4 213.5 L489.9 217.0 L490.3 212.4 L490.8 218.2 L491.2 214.1 L491.7 218.7 L492.1 214.7 L492.6 219.9 L493.0 214.5 L493.5 219.5 L493.9 215.5 L494.4 219.5 L494.8 215.8 L495.3 221.2 L495.7 216.1 L496.2 222.3 L496.6 216.3 L497.1 221.9 L497.5 216.9 L498.0 220.2 L498.4 216.4 L498.9 220.6 L499.3 215.6 L499.8 220.7 L500.2 215.5 L500.7 220.9 L501.1 216.0 L501.6 220.5 L502.0 216.6 L502.5 221.2 L502.9 216.3 L503.4 220.9 L503.8 216.7 L504.3 221.8 L504.7 215.7 L505.2 221.7 L505.6 218.4 L506.1 222.5 L506.5 217.0 L507.0 221.8 L507.4 217.4 L507.9 221.4 L508.3 216.7 L508.8 221.5 L509.2 216.6 L509.7 220.0 L510.1 215.5 L510.6 220.7 L511.0 215.8 L511.5 220.4 L511.9 215.7 L512.4 219.5 L512.8 215.4 L513.3 219.4 L513.7 215.8 L514.2 220.0 L514.6 215.2 L515.1 220.3 L515.5 216.5 L516.0 220.4 L516.4 216.8 L516.9 219.3 L517.3 215.2 L517.8 219.2 L518.2 213.0 L518.7 217.9 L519.1 213.5 L519.6 217.3 L520.0 211.7 L520.5 215.3 L520.9 210.3 L521.4 214.8 L521.8 211.0 L522.3 214.2 L522.7 210.0 L523.2 214.3 L523.6 209.5 L524.1 214.7 L524.5 210.4 L525.0 214.0 L525.4 209.4 L525.9 212.9 L526.3 208.0 L526.8 212.6 L527.2 208.3 L527.7 211.7 L528.1 206.2 L528.6 212.3 L529.0 206.7 L529.5 209.4 L529.9 203.5 L530.4 209.1 L530.8 203.9 L531.3 208.3 L531.7 204.4 L532.2 208.1 L532.6 204.2 L533.1 207.6 L533.5 203.7 L534.0 208.2 L534.4 203.8 L534.9 208.0 L535.3 203.0 L535.8 207.9 L536.2 201.8 L536.7 206.8 L537.1 200.9 L537.6 205.2 L538.0 201.7 L538.5 204.1 L538.9 198.7 L539.4 204.6 L539.8 199.9 L540.3 204.5 L540.7 198.8 L541.2 203.9 L541.6 199.6 L542.1 204.7 L542.5 199.8 L543.0 205.9 L543.4 202.5 L543.9 207.2 L544.3 203.1 L544.8 207.2 L545.2 203.4 L545.7 207.5 L546.1 204.4 L546.6 207.5 L547.1 204.9 L547.5 208.6 L548.0 205.4 L548.4 210.2 L548.9 205.1 L549.3 210.5 L549.8 206.8 L550.2 212.6 L550.7 207.4 L551.1 211.5 L551.6 207.8 L552.0 213.4 L552.5 207.4 L552.9 214.9 L553.4 209.7 L553.8 213.9 L554.3 208.7 L554.7 215.1 L555.2 210.3 L555.6 214.7 L556.1 209.9 L556.5 215.0 L557.0 211.6 L557.4 216.1 L557.9 210.6 L558.3 215.3 L558.8 211.5 L559.2 214.5 L559.7 210.7 L560.1 214.3 L560.6 209.6 L561.0 214.5 L561.5 210.0 L561.9 215.1 L562.4 208.9 L562.8 215.8 L563.3 210.0 L563.7 214.7 L564.2 210.7 L564.6 215.5 L565.1 211.6 L565.5 215.7 L566.0 211.2 L566.4 215.3 L566.9 211.1 L567.3 214.8 L567.8 211.1 L568.2 216.8 L568.7 211.6 L569.1 214.7 L569.6 210.2 L570.0 215.0 L570.5 209.2 L570.9 214.8 L571.4 211.4 L571.8 215.1 L572.3 211.2 L572.7 215.3 L573.2 209.7 L573.6 215.2 L574.1 209.8 L574.5 214.9 L575.0 209.9 L575.4 213.7 L575.9 209.2 L576.3 215.5 L576.8 209.7 L577.2 213.7 L577.7 208.9 L578.1 214.4 L578.6 209.9 L579.0 214.7 L579.5 209.8 L579.9 213.1 L580.4 209.9 L580.8 213.3 L581.3 209.7 L581.7 213.0 L582.2 209.5 L582.6 214.4 L583.1 208.2 L583.5 212.5 L584.0 209.6 L584.4 212.5 L584.9 209.6 L585.3 212.9 L585.8 209.9 L586.2 214.2 L586.7 209.3 L587.1 214.4 L587.6 210.4 L588.0 213.5 L588.5 210.3 L588.9 214.5 L589.4 208.8 L589.8 215.0 L590.3 210.0 L590.7 214.8 L591.2 209.7 L591.6 215.1 L592.1 210.7 L592.5 214.8 L593.0 209.9 L593.4 214.1 L593.9 211.0 L594.3 214.3 L594.8 210.1 L595.2 216.3 L595.7 210.0 L596.1 214.9 L596.6 209.7 L597.0 215.4 L597.5 210.0 L597.9 214.5 L598.4 210.4 L598.8 215.1 L599.3 210.8 L599.7 215.1 L600.2 209.9 L600.6 214.3 L601.1 211.1 L601.5 214.1 L602.0 209.7 L602.4 215.7 L602.9 210.8 L603.3 215.7 L603.8 210.4 L604.2 215.2 L604.7 210.7 L605.1 214.7 L605.6 210.6 L606.0 215.9 L606.5 211.2 L606.9 216.1 L607.4 210.6 L607.8 216.2 L608.3 211.0 L608.7 216.2 L609.2 210.8 L609.6 215.8 L610.1 211.4 L610.5 216.8 L611.0 211.9 L611.4 215.4 L611.9 212.1 L612.3 216.7 L612.8 211.6 L613.2 217.5 L613.7 212.2 L614.1 215.9 L614.6 212.7 L615.0 216.5 L615.5 210.5 L615.9 216.2 L616.4 211.5 L616.8 217.8 L617.3 212.9 L617.7 215.7 L618.2 211.8 L618.6 217.3 L619.1 211.9 L619.5 216.9 L620.0 213.0 L620.4 217.4 L620.9 211.5 L621.3 217.6 L621.8 212.9 L622.2 216.1 L622.7 212.2 L623.1 216.2 L623.6 212.3 L624.0 216.7 L624.5 211.1 L624.9 217.6 L625.4 212.4 L625.8 218.3 L626.3 212.1 L626.7 216.7 L627.2 213.7 L627.6 217.5 L628.1 212.6 L628.5 217.1 L629.0 212.9 L629.4 218.3 L629.9 213.2 L630.3 218.1 L630.8 213.6 L631.2 218.4 L631.7 214.0 L632.1 218.2 L632.6 213.1 L633.0 217.3 L633.5 214.3 L633.9 217.9 L634.4 212.9 L634.8 217.6 L635.3 213.7 L635.7 218.4 L636.2 213.0 L636.6 217.8 L637.1 212.9 L637.5 218.0 L638.0 213.0 L638.4 218.3 L638.9 213.2 L639.3 217.5 L639.8 213.4 L640.2 217.8 L640.7 212.8 L641.1 216.5 L641.6 212.2 L642.0 217.7 L642.5 212.2 L642.9 217.8 L643.4 213.1 L643.8 217.3 L644.3 211.4 L644.7 218.1 L645.2 212.8 L645.6 217.1 L646.1 211.6 L646.5 217.6 L647.0 212.7 L647.4 217.2 L647.9 212.1 L648.3 217.8 L648.8 212.7 L649.2 217.6 L649.7 212.6 L650.1 217.7 L650.6 213.4 L651.0 218.8 L651.5 212.6 L651.9 217.0 L652.4 213.2 L652.8 217.0 L653.3 212.4 L653.7 217.8 L654.2 212.8 L654.6 217.0 L655.1 212.7 L655.5 216.7 L656.0 213.0 L656.4 218.6 L656.9 212.3 L657.3 217.3 L657.8 212.7 L658.2 217.5 L658.7 212.5 L659.1 216.3 L659.6 213.6 L660.0 216.9 L660.5 212.4 L660.9 217.7 L661.4 213.1 L661.8 218.8 L662.3 212.6 L662.7 216.3 L663.2 213.1 L663.6 216.6 L664.1 213.4 L664.5 216.8 L665.0 212.6 L665.4 216.6 L665.9 213.1 L666.3 217.2 L666.8 213.7 L667.2 217.7 L667.7 212.9 L668.1 217.0 L668.6 213.2 L669.0 217.2 L669.5 212.6 L669.9 218.2 L670.4 213.3 L670.8 217.4 L671.3 213.7 L671.7 217.8 L672.2 214.3 L672.6 218.2 L673.1 214.2 L673.5 219.1 L674.0 214.0 L674.4 219.1 L674.9 214.2 L675.3 218.9 L675.8 214.3 L676.2 220.0" fill="none" stroke="#ff00ff" stroke-width="2.0" stroke-linejoin="round" stroke-linecap="round"/><path d="M374.3 191.5 L374.5 196.0 L375.0 200.0 L376.2 202.5 L377.6 202.0 L379.0 204.5 L380.5 207.5" fill="none" stroke="#ff00ff" stroke-width="4.6" stroke-linejoin="round" stroke-linecap="round"/><path d="M50.2 360.0 L50.7 348.7 L51.1 358.0 L51.6 346.9 L52.0 361.9 L52.5 342.2 L52.9 359.9 L53.4 343.2 L53.8 360.0 L54.3 344.1 L54.7 356.5 L55.2 342.8 L55.6 356.8 L56.1 343.3 L56.5 358.2 L57.0 346.6 L57.4 357.8 L57.9 346.4 L58.3 364.1 L58.8 344.4 L59.2 361.3 L59.7 351.3 L60.1 365.3 L60.6 347.3 L61.0 366.9 L61.5 348.0 L61.9 367.1 L62.4 352.0 L62.8 366.8 L63.3 352.3 L63.7 366.7 L64.2 352.7 L64.6 369.1 L65.1 352.3 L65.5 365.3 L66.0 351.0 L66.4 368.6 L66.9 351.9 L67.3 370.8 L67.8 353.9 L68.2 364.3 L68.7 347.9 L69.1 366.2 L69.6 350.5 L70.0 364.1 L70.5 352.4 L70.9 372.3 L71.4 352.0 L71.8 367.5 L72.3 348.8 L72.7 365.4 L73.2 353.1 L73.6 364.3 L74.1 352.8 L74.5 366.1 L75.0 349.0 L75.4 362.4 L75.9 348.9 L76.3 363.8 L76.8 350.7 L77.2 365.4 L77.7 348.8 L78.1 365.7 L78.6 348.8 L79.0 365.2 L79.5 352.0 L79.9 362.5 L80.4 351.8 L80.8 365.3 L81.3 350.1 L81.7 363.2 L82.2 349.2 L82.6 359.9 L83.1 346.5 L83.5 356.4 L84.0 344.1 L84.4 358.2 L84.9 346.1 L85.3 358.5 L85.8 346.3 L86.2 360.0 L86.7 347.5 L87.1 359.5 L87.6 348.7 L88.0 358.9 L88.5 345.7 L88.9 358.9 L89.4 347.4 L89.8 358.9 L90.3 348.4 L90.7 360.0 L91.2 350.4 L91.6 360.6 L92.1 349.2 L92.5 360.1 L93.0 348.2 L93.4 359.6 L93.9 351.7 L94.3 360.7 L94.8 348.2 L95.2 359.4 L95.7 351.1 L96.1 361.1 L96.6 350.7 L97.0 362.2 L97.5 348.6 L97.9 359.6 L98.4 351.1 L98.8 362.1 L99.3 344.4 L99.7 358.7 L100.2 347.5 L100.6 359.4 L101.1 345.8 L101.5 360.2 L102.0 345.3 L102.4 363.0 L102.9 344.3 L103.3 362.4 L103.8 349.2 L104.2 364.7 L104.7 349.5 L105.1 366.2 L105.6 350.8 L106.0 367.9 L106.5 352.5 L106.9 368.4 L107.4 351.6 L107.8 367.4 L108.3 357.4 L108.7 371.1 L109.2 351.4 L109.6 369.3 L110.1 356.6 L110.5 364.4 L111.0 352.7 L111.4 363.1 L111.9 351.7 L112.3 362.1 L112.8 349.9 L113.2 363.4 L113.7 351.6 L114.1 359.7 L114.6 349.7 L115.0 358.0 L115.5 350.2 L115.9 357.7 L116.4 344.6 L116.8 358.8 L117.3 346.2 L117.7 361.7 L118.2 344.3 L118.6 357.6 L119.1 345.7 L119.5 357.4 L120.0 344.4 L120.4 355.3 L120.9 346.5 L121.3 358.8 L121.8 345.6 L122.2 359.8 L122.7 344.0 L123.1 357.8 L123.6 346.0 L124.0 358.2 L124.5 349.0 L124.9 358.9 L125.4 347.8 L125.8 364.3 L126.3 347.4 L126.7 362.6 L127.2 351.5 L127.6 365.6 L128.1 347.6 L128.5 364.9 L129.0 350.8 L129.4 366.9 L129.9 350.0 L130.3 365.9 L130.8 352.1 L131.2 370.4 L131.7 353.4 L132.1 371.8 L132.6 350.5 L133.0 373.7 L133.5 356.1 L133.9 375.2 L134.4 352.8 L134.8 369.9 L135.3 352.5 L135.7 371.5 L136.2 355.0 L136.6 370.9 L137.1 353.8 L137.5 369.3 L138.0 357.4 L138.4 367.9 L138.9 352.7 L139.3 370.1 L139.8 351.2 L140.2 365.8 L140.7 350.2 L141.1 366.1 L141.6 351.2 L142.0 363.4 L142.5 349.6 L142.9 360.5 L143.4 351.1 L143.8 360.5 L144.3 346.5 L144.7 360.5 L145.2 347.8 L145.6 360.5 L146.1 347.6 L146.5 362.7 L147.0 349.5 L147.4 362.9 L147.8 349.4 L148.3 363.2 L148.7 354.1 L149.2 368.6 L149.6 355.1 L150.1 364.6 L150.5 353.9 L151.0 370.9 L151.4 354.5 L151.9 368.8 L152.3 359.3 L152.8 373.1 L153.2 355.8 L153.7 373.7 L154.1 357.3 L154.6 376.1 L155.0 360.5 L155.5 383.0 L155.9 361.4 L156.4 392.5 L156.8 357.4 L157.3 384.1 L157.7 364.3 L158.2 392.2 L158.6 363.1 L159.1 397.1 L159.5 361.0 L160.0 401.6 L160.4 364.1 L160.9 407.0 L161.3 368.5 L161.8 400.9 L162.2 365.0 L162.7 397.0 L163.1 356.6 L163.6 393.5 L164.0 361.7 L164.5 389.6 L164.9 363.2 L165.4 388.7 L165.8 359.7 L166.3 381.1 L166.7 352.9 L167.2 386.2 L167.6 358.4 L168.1 391.9 L168.5 360.1 L169.0 381.7 L169.4 357.7 L169.9 382.8 L170.3 356.5 L170.8 375.1 L171.2 353.2 L171.7 380.0 L172.1 353.6 L172.6 374.8 L173.0 345.1 L173.5 371.4 L173.9 352.1 L174.4 368.7 L174.8 346.7 L175.3 368.3 L175.7 348.7 L176.2 366.0 L176.6 348.6 L177.1 368.8 L177.5 349.1 L178.0 368.6 L178.4 344.2 L178.9 367.0 L179.3 351.9 L179.8 367.1 L180.2 349.0 L180.7 369.3 L181.1 351.8 L181.6 362.4 L182.0 348.6 L182.5 364.1 L182.9 346.8 L183.4 360.3 L183.8 350.4 L184.3 357.5 L184.7 347.2 L185.2 363.1 L185.6 348.7 L186.1 358.9 L186.5 343.7 L187.0 356.8 L187.4 340.7 L187.9 356.0 L188.3 340.3 L188.8 355.7 L189.2 342.0 L189.7 355.6 L190.1 339.2 L190.6 356.2 L191.0 337.1 L191.5 359.6 L191.9 347.0 L192.4 362.5 L192.8 348.4 L193.3 360.8 L193.7 344.2 L194.2 368.3 L194.6 351.9 L195.1 367.9 L195.5 351.2 L196.0 370.3 L196.4 349.4 L196.9 371.4 L197.3 350.9 L197.8 368.7 L198.2 353.2 L198.7 365.5 L199.1 351.1 L199.6 364.5 L200.0 349.1 L200.5 364.1 L200.9 344.7 L201.4 360.5 L201.8 342.9 L202.3 359.3 L202.7 342.4 L203.2 355.0 L203.6 338.3 L204.1 355.5 L204.5 340.9 L205.0 355.2 L205.4 339.9 L205.9 357.3 L206.3 339.5 L206.8 357.3 L207.2 343.7 L207.7 358.1 L208.1 344.2 L208.6 355.9 L209.0 344.9 L209.5 356.5 L209.9 343.6 L210.4 354.4 L210.8 343.7 L211.3 353.8 L211.7 342.3 L212.2 352.4 L212.6 342.1 L213.1 353.7 L213.5 343.6 L214.0 352.5 L214.4 338.1 L214.9 352.5 L215.3 337.1 L215.8 352.9 L216.2 338.8 L216.7 353.4 L217.1 336.8 L217.6 354.4 L218.0 341.4 L218.5 357.5 L218.9 347.8 L219.4 359.3 L219.8 347.9 L220.3 361.7 L220.7 346.1 L221.2 365.1 L221.6 351.7 L222.1 362.3 L222.5 353.1 L223.0 364.0 L223.4 352.9 L223.9 366.7 L224.3 352.0 L224.8 364.7 L225.2 354.6 L225.7 364.9 L226.1 355.0 L226.6 365.6 L227.0 351.0 L227.5 366.4 L227.9 350.0 L228.4 362.8 L228.8 352.9 L229.3 363.7 L229.7 351.8 L230.2 366.8 L230.6 349.5 L231.1 362.3 L231.5 349.9 L232.0 363.2 L232.4 351.1 L232.9 362.4 L233.3 352.0 L233.8 360.9 L234.2 346.2 L234.7 363.0 L235.1 352.1 L235.6 363.6 L236.0 353.0 L236.5 365.6 L236.9 352.3 L237.4 363.3 L237.8 351.9 L238.3 365.7 L238.7 351.8 L239.2 365.1 L239.6 350.8 L240.1 363.2 L240.5 349.6 L241.0 360.8 L241.4 349.2 L241.9 361.4 L242.3 347.0 L242.8 363.4 L243.2 351.0 L243.7 362.0 L244.1 347.1 L244.6 363.6 L245.0 350.6 L245.5 361.6 L245.9 346.7 L246.4 364.0 L246.8 349.7 L247.3 365.0 L247.7 350.7 L248.2 361.7 L248.6 351.9 L249.1 362.0 L249.5 351.6 L250.0 364.6 L250.4 352.9 L250.9 362.2 L251.3 351.8 L251.8 363.0 L252.2 346.6 L252.7 363.5 L253.1 346.5 L253.6 356.9 L254.0 347.8 L254.5 356.9 L254.9 344.2 L255.4 358.1 L255.8 346.7 L256.3 355.8 L256.7 343.2 L257.2 357.6 L257.6 347.2 L258.1 361.2 L258.5 347.5 L259.0 355.4 L259.4 347.5 L259.9 355.9 L260.3 343.6 L260.8 358.3 L261.2 342.6 L261.7 354.3 L262.1 338.3 L262.6 355.6 L263.0 341.7 L263.5 359.1 L263.9 337.9 L264.4 355.6 L264.8 337.8 L265.3 357.8 L265.7 338.6 L266.2 354.7 L266.6 336.3 L267.1 354.4 L267.5 337.0 L268.0 353.1 L268.4 338.2 L268.9 355.6 L269.3 339.4 L269.8 352.1 L270.2 338.8 L270.7 352.0 L271.1 340.7 L271.6 355.2 L272.0 340.9 L272.5 353.8 L272.9 344.8 L273.4 357.1 L273.8 345.5 L274.3 355.7 L274.7 345.7 L275.2 358.5 L275.6 344.6 L276.1 358.9 L276.5 347.6 L277.0 358.4 L277.4 348.9 L277.9 358.6 L278.3 349.1 L278.8 362.2 L279.2 346.6 L279.7 360.6 L280.1 344.4 L280.6 357.9 L281.0 348.0 L281.5 363.2 L281.9 347.5 L282.4 360.2 L282.8 347.7 L283.3 364.6 L283.7 343.8 L284.2 361.9 L284.6 345.4 L285.1 359.8 L285.5 344.4 L286.0 358.2 L286.4 347.4 L286.9 361.3 L287.3 349.8 L287.8 357.9 L288.2 347.2 L288.7 359.5 L289.1 347.6 L289.6 362.9 L290.0 349.9 L290.5 359.0 L290.9 350.6 L291.4 359.3 L291.8 347.6 L292.3 357.5 L292.7 347.6 L293.2 359.2 L293.6 347.8 L294.1 358.7 L294.5 348.4 L295.0 359.5 L295.4 344.7 L295.9 358.3 L296.3 347.2 L296.8 357.4 L297.2 345.2 L297.7 357.5 L298.1 346.2 L298.6 360.8 L299.0 348.2 L299.5 360.7 L299.9 351.2 L300.4 363.4 L300.8 349.8 L301.3 359.5 L301.7 344.2 L302.2 362.5 L302.6 349.0 L303.1 360.1 L303.5 348.5 L304.0 361.1 L304.4 348.5 L304.9 363.4 L305.3 349.7 L305.8 360.6 L306.2 350.8 L306.7 362.2 L307.1 352.0 L307.6 362.8 L308.0 352.7 L308.5 360.5 L308.9 348.8 L309.4 360.2 L309.8 353.4 L310.3 363.2 L310.7 351.6 L311.2 363.3 L311.6 352.6 L312.1 362.3 L312.5 351.0 L313.0 359.6 L313.4 349.9 L313.9 362.7 L314.3 350.1 L314.8 366.4 L315.2 349.3 L315.7 366.3 L316.1 350.4 L316.6 362.8 L317.0 347.5 L317.5 361.1 L317.9 348.7 L318.4 359.2 L318.8 344.8 L319.3 357.8 L319.7 343.7 L320.2 358.7 L320.6 345.4 L321.1 356.4 L321.5 345.0 L322.0 358.2 L322.4 346.0 L322.9 356.4 L323.3 348.7 L323.8 357.5 L324.2 348.6 L324.7 358.4 L325.1 349.6 L325.6 360.8 L326.0 346.1 L326.5 359.7 L326.9 345.2 L327.4 356.1 L327.8 342.7 L328.3 357.0 L328.7 344.0 L329.2 354.8 L329.6 344.8 L330.1 355.6 L330.5 341.9 L331.0 354.3 L331.4 341.2 L331.9 354.5 L332.3 341.2 L332.8 353.7 L333.2 343.9 L333.7 355.5 L334.1 346.3 L334.6 354.5 L335.0 344.3 L335.5 356.7 L335.9 344.9 L336.4 354.3 L336.8 341.8 L337.3 356.3 L337.7 337.6 L338.2 356.2 L338.6 342.0 L339.1 353.7 L339.5 341.9 L340.0 354.1 L340.4 341.3 L340.9 356.0 L341.3 346.7 L341.8 358.3 L342.2 344.1 L342.7 357.2 L343.1 347.3 L343.6 359.3" fill="none" stroke="#00ffff" stroke-width="2.0" stroke-linejoin="round" stroke-linecap="round"/><path d="M44.0 423.0 L44.4 412.7 L45.0 394.5 L46.1 376.4 L47.0 367.3 L48.5 358.0 L50.5 353.0" fill="none" stroke="#00ffff" stroke-width="3.0" stroke-linejoin="round" stroke-linecap="round"/><path d="M50.2 358.0 L50.7 346.1 L51.1 358.9 L51.6 347.8 L52.0 358.7 L52.5 348.3 L52.9 357.8 L53.4 345.7 L53.8 356.0 L54.3 344.3 L54.7 355.6 L55.2 343.3 L55.6 355.8 L56.1 345.7 L56.5 353.1 L57.0 343.0 L57.4 355.3 L57.9 346.3 L58.3 356.4 L58.8 348.6 L59.2 358.5 L59.7 350.2 L60.1 363.4 L60.6 351.7 L61.0 363.0 L61.5 349.4 L61.9 363.2 L62.4 348.8 L62.8 362.1 L63.3 349.2 L63.7 361.7 L64.2 352.4 L64.6 366.5 L65.1 349.4 L65.5 366.7 L66.0 345.9 L66.4 365.2 L66.9 349.1 L67.3 366.7 L67.8 347.2 L68.2 364.2 L68.7 348.2 L69.1 367.0 L69.6 352.4 L70.0 366.0 L70.5 350.6 L70.9 364.5 L71.4 352.2 L71.8 370.4 L72.3 353.3 L72.7 363.5 L73.2 346.2 L73.6 363.1 L74.1 349.9 L74.5 363.7 L75.0 351.6 L75.4 363.1 L75.9 353.0 L76.3 365.5 L76.8 351.6 L77.2 363.4 L77.7 353.3 L78.1 364.4 L78.6 349.7 L79.0 361.6 L79.5 352.8 L79.9 361.9 L80.4 350.6 L80.8 361.0 L81.3 350.8 L81.7 359.2 L82.2 351.5 L82.6 358.7 L83.1 347.1 L83.5 358.6 L84.0 345.1 L84.4 358.5 L84.9 345.1 L85.3 358.5 L85.8 347.7 L86.2 356.0 L86.7 344.2 L87.1 362.8 L87.6 348.1 L88.0 363.0 L88.5 347.9 L88.9 357.9 L89.4 349.8 L89.8 361.6 L90.3 350.9 L90.7 361.1 L91.2 347.9 L91.6 362.7 L92.1 350.5 L92.5 363.7 L93.0 351.8 L93.4 362.8 L93.9 349.1 L94.3 359.9 L94.8 349.2 L95.2 358.4 L95.7 349.6 L96.1 358.8 L96.6 349.2 L97.0 361.4 L97.5 348.7 L97.9 358.8 L98.4 347.9 L98.8 358.7 L99.3 348.7 L99.7 360.0 L100.2 349.1 L100.6 359.5 L101.1 348.3 L101.5 358.3 L102.0 347.8 L102.4 358.4 L102.9 346.1 L103.3 364.2 L103.8 345.6 L104.2 361.0 L104.7 346.2 L105.1 361.7 L105.6 352.0 L106.0 364.7 L106.5 351.2 L106.9 370.4 L107.4 354.1 L107.8 365.7 L108.3 356.9 L108.7 366.3 L109.2 355.2 L109.6 365.1 L110.1 356.8 L110.5 368.4 L111.0 354.2 L111.4 363.5 L111.9 351.8 L112.3 363.0 L112.8 351.5 L113.2 361.0 L113.7 352.2 L114.1 358.8 L114.6 351.2 L115.0 360.7 L115.5 349.2 L115.9 357.6 L116.4 348.1 L116.8 357.3 L117.3 343.9 L117.7 356.1 L118.2 343.9 L118.6 355.2 L119.1 345.6 L119.5 359.1 L120.0 344.4 L120.4 359.0 L120.9 347.4 L121.3 359.5 L121.8 344.0 L122.2 358.7 L122.7 345.1 L123.1 359.9 L123.6 345.6 L124.0 361.0 L124.5 346.8 L124.9 361.4 L125.4 349.5 L125.8 360.4 L126.3 350.8 L126.7 360.3 L127.2 349.7 L127.6 364.7 L128.1 343.4 L128.5 365.2 L129.0 348.2 L129.4 364.8 L129.9 350.8 L130.3 368.0 L130.8 353.7 L131.2 368.9 L131.7 351.6 L132.1 368.4 L132.6 354.1 L133.0 367.1 L133.5 358.1 L133.9 369.6 L134.4 356.4 L134.8 369.3 L135.3 358.6 L135.7 367.0 L136.2 356.2 L136.6 369.3 L137.1 355.7 L137.5 367.9 L138.0 355.8 L138.4 368.9 L138.9 355.8 L139.3 368.0 L139.8 349.3 L140.2 364.0 L140.7 351.5 L141.1 364.0 L141.6 353.6 L142.0 359.8 L142.5 349.2 L142.9 360.3 L143.4 350.6 L143.8 359.4 L144.3 349.4 L144.7 359.5 L145.2 350.0 L145.6 361.5 L146.1 345.5 L146.5 359.5 L147.0 349.0 L147.4 360.0 L147.8 352.3 L148.3 363.0 L148.7 350.0 L149.2 365.2 L149.6 355.7 L150.1 363.8 L150.5 355.3 L151.0 368.0 L151.4 354.3 L151.9 367.8 L152.3 353.0 L152.8 366.5 L153.2 356.1 L153.7 369.4 L154.1 356.8 L154.6 369.9 L155.0 358.3 L155.5 372.5 L155.9 358.7 L156.4 370.0 L156.8 360.7 L157.3 372.3 L157.7 358.1 L158.2 375.0 L158.6 358.7 L159.1 376.2 L159.5 358.4 L160.0 378.9 L160.4 361.5 L160.9 371.9 L161.3 358.0 L161.8 373.6 L162.2 360.6 L162.7 376.0 L163.1 359.1 L163.6 373.5 L164.0 356.2 L164.5 375.0 L164.9 356.2 L165.4 375.8 L165.8 356.4 L166.3 370.5 L166.7 359.4 L167.2 372.5 L167.6 357.9 L168.1 373.1 L168.5 358.2 L169.0 371.7 L169.4 354.4 L169.9 370.3 L170.3 355.4 L170.8 369.2 L171.2 353.0 L171.7 368.3 L172.1 352.6 L172.6 368.6 L173.0 353.1 L173.5 361.0 L173.9 348.6 L174.4 361.0 L174.8 349.0 L175.3 363.2 L175.7 351.6 L176.2 362.8 L176.6 350.3 L177.1 366.4 L177.5 350.8 L178.0 365.4 L178.4 347.6 L178.9 367.8 L179.3 351.9 L179.8 366.3 L180.2 352.0 L180.7 371.0 L181.1 351.0 L181.6 362.1 L182.0 349.6 L182.5 361.7 L182.9 350.8 L183.4 360.2 L183.8 346.9 L184.3 360.0 L184.7 349.3 L185.2 357.0 L185.6 344.9 L186.1 356.8 L186.5 345.0 L187.0 354.4 L187.4 346.0 L187.9 355.5 L188.3 342.6 L188.8 354.1 L189.2 339.6 L189.7 352.7 L190.1 341.5 L190.6 351.3 L191.0 339.0 L191.5 354.0 L191.9 345.9 L192.4 364.0 L192.8 347.3 L193.3 365.2 L193.7 348.9 L194.2 367.0 L194.6 355.9 L195.1 368.9 L195.5 349.1 L196.0 373.1 L196.4 356.8 L196.9 366.1 L197.3 354.3 L197.8 365.9 L198.2 355.4 L198.7 364.1 L199.1 351.4 L199.6 362.9 L200.0 346.1 L200.5 362.1 L200.9 348.7 L201.4 360.3 L201.8 345.4 L202.3 360.9 L202.7 342.7 L203.2 355.9 L203.6 345.3 L204.1 357.0 L204.5 341.8 L205.0 357.6 L205.4 343.3 L205.9 357.4 L206.3 343.2 L206.8 354.4 L207.2 346.8 L207.7 357.9 L208.1 345.6 L208.6 355.2 L209.0 344.8 L209.5 355.7 L209.9 346.1 L210.4 352.5 L210.8 345.5 L211.3 356.6 L211.7 343.6 L212.2 351.6 L212.6 344.3 L213.1 351.2 L213.5 342.1 L214.0 354.8 L214.4 337.5 L214.9 349.3 L215.3 342.2 L215.8 353.9 L216.2 338.0 L216.7 352.1 L217.1 340.9 L217.6 356.4 L218.0 342.3 L218.5 359.2 L218.9 348.2 L219.4 360.6 L219.8 353.0 L220.3 365.7 L220.7 353.5 L221.2 365.7 L221.6 352.8 L222.1 363.7 L222.5 353.8 L223.0 363.8 L223.4 352.6 L223.9 364.3 L224.3 354.4 L224.8 366.9 L225.2 356.0 L225.7 365.1 L226.1 353.9 L226.6 366.7 L227.0 354.0 L227.5 365.6 L227.9 354.2 L228.4 364.7 L228.8 352.3 L229.3 367.1 L229.7 352.6 L230.2 362.7 L230.6 354.4 L231.1 363.6 L231.5 352.3 L232.0 364.1 L232.4 352.2 L232.9 364.4 L233.3 353.6 L233.8 361.7 L234.2 351.5 L234.7 362.0 L235.1 350.5 L235.6 365.9 L236.0 352.6 L236.5 359.9 L236.9 350.3 L237.4 362.0 L237.8 352.6 L238.3 362.8 L238.7 351.9 L239.2 360.7 L239.6 347.9 L240.1 361.0 L240.5 349.6 L241.0 364.9 L241.4 348.4 L241.9 362.3 L242.3 350.1 L242.8 359.7 L243.2 348.7 L243.7 360.5 L244.1 349.9 L244.6 361.5 L245.0 348.1 L245.5 361.6 L245.9 351.1 L246.4 361.1 L246.8 348.5 L247.3 362.2 L247.7 352.3 L248.2 364.3 L248.6 349.9 L249.1 364.2 L249.5 353.4 L250.0 365.4 L250.4 350.5 L250.9 360.3 L251.3 351.3 L251.8 362.5 L252.2 347.7 L252.7 362.1 L253.1 348.2 L253.6 360.6 L254.0 348.7 L254.5 359.0 L254.9 345.3 L255.4 357.4 L255.8 346.8 L256.3 362.1 L256.7 345.0 L257.2 357.4 L257.6 345.1 L258.1 357.1 L258.5 347.0 L259.0 357.7 L259.4 348.3 L259.9 358.7 L260.3 344.4 L260.8 354.9 L261.2 344.4 L261.7 354.5 L262.1 345.6 L262.6 353.6 L263.0 341.5 L263.5 354.5 L263.9 341.7 L264.4 352.8 L264.8 340.9 L265.3 354.7 L265.7 341.4 L266.2 350.1 L266.6 339.1 L267.1 350.7 L267.5 341.0 L268.0 355.3 L268.4 341.6 L268.9 351.1 L269.3 341.3 L269.8 357.4 L270.2 342.7 L270.7 354.6 L271.1 343.8 L271.6 357.8 L272.0 344.4 L272.5 353.9 L272.9 346.0 L273.4 353.8 L273.8 344.5 L274.3 358.9 L274.7 346.3 L275.2 357.1 L275.6 349.2 L276.1 357.0 L276.5 349.7 L277.0 358.5 L277.4 349.3 L277.9 359.9 L278.3 349.9 L278.8 357.8 L279.2 349.5 L279.7 359.0 L280.1 346.4 L280.6 357.2 L281.0 350.3 L281.5 357.0 L281.9 349.0 L282.4 358.5 L282.8 347.0 L283.3 360.6 L283.7 348.3 L284.2 358.1 L284.6 349.3 L285.1 358.1 L285.5 348.2 L286.0 359.8 L286.4 347.8 L286.9 359.3 L287.3 350.7 L287.8 357.4 L288.2 348.6 L288.7 360.4 L289.1 349.3 L289.6 358.8 L290.0 351.4 L290.5 359.1 L290.9 352.2 L291.4 360.2 L291.8 348.9 L292.3 360.0 L292.7 349.2 L293.2 359.8 L293.6 345.5 L294.1 358.8 L294.5 348.6 L295.0 359.9 L295.4 343.6 L295.9 357.4 L296.3 348.6 L296.8 358.5 L297.2 348.8 L297.7 358.8 L298.1 348.9 L298.6 357.2 L299.0 351.9 L299.5 358.2 L299.9 351.4 L300.4 359.9 L300.8 350.6 L301.3 359.6 L301.7 349.0 L302.2 360.6 L302.6 349.1 L303.1 358.4 L303.5 348.0 L304.0 360.1 L304.4 346.7 L304.9 360.0 L305.3 349.2 L305.8 358.8 L306.2 349.0 L306.7 361.5 L307.1 352.0 L307.6 361.7 L308.0 353.3 L308.5 361.6 L308.9 354.7 L309.4 361.8 L309.8 352.2 L310.3 363.3 L310.7 352.1 L311.2 362.0 L311.6 354.1 L312.1 359.6 L312.5 352.6 L313.0 359.8 L313.4 352.9 L313.9 364.9 L314.3 353.0 L314.8 362.8 L315.2 348.9 L315.7 361.5 L316.1 350.4 L316.6 360.3 L317.0 349.3 L317.5 361.4 L317.9 350.9 L318.4 360.4 L318.8 348.3 L319.3 357.2 L319.7 348.6 L320.2 359.2 L320.6 345.5 L321.1 358.3 L321.5 345.8 L322.0 359.8 L322.4 347.7 L322.9 357.4 L323.3 346.6 L323.8 359.6 L324.2 349.3 L324.7 360.1 L325.1 349.4 L325.6 360.6 L326.0 348.1 L326.5 359.4 L326.9 349.2 L327.4 360.2 L327.8 346.6 L328.3 356.3 L328.7 347.0 L329.2 357.7 L329.6 345.6 L330.1 352.2 L330.5 344.2 L331.0 351.1 L331.4 341.8 L331.9 351.4 L332.3 340.9 L332.8 354.6 L333.2 344.1 L333.7 356.4 L334.1 343.7 L334.6 356.7 L335.0 348.6 L335.5 355.2 L335.9 346.4 L336.4 355.4 L336.8 344.1 L337.3 356.6 L337.7 342.4 L338.2 355.5 L338.6 345.7 L339.1 352.9 L339.5 346.3 L340.0 355.7 L340.4 344.2 L340.9 358.2 L341.3 346.4 L341.8 358.5 L342.2 347.6 L342.7 360.6 L343.1 350.7 L343.6 358.3" fill="none" stroke="#ff0000" stroke-width="2.0" stroke-linejoin="round" stroke-linecap="round"/><path d="M44.7 423.0 L45.1 412.7 L45.8 394.5 L46.9 378.0 L47.9 367.3 L49.2 358.0 L50.9 351.0" fill="none" stroke="#ff0000" stroke-width="4.2" stroke-linejoin="round" stroke-linecap="round"/><path d="M383.2 358.5 L383.6 352.2 L384.1 357.8 L384.5 349.9 L385.0 358.1 L385.4 350.7 L385.9 357.8 L386.3 351.4 L386.8 357.3 L387.2 351.4 L387.7 356.0 L388.1 351.5 L388.6 357.3 L389.0 352.4 L389.5 359.0 L389.9 351.0 L390.4 359.5 L390.8 354.1 L391.3 361.3 L391.7 356.1 L392.2 362.8 L392.6 352.7 L393.1 362.1 L393.5 356.6 L394.0 366.0 L394.4 358.8 L394.9 364.8 L395.3 359.5 L395.8 365.8 L396.2 360.4 L396.7 369.0 L397.1 358.6 L397.6 368.1 L398.0 356.9 L398.5 366.0 L398.9 356.3 L399.4 368.6 L399.8 353.5 L400.3 365.0 L400.7 357.6 L401.2 365.8 L401.6 352.4 L402.1 366.4 L402.5 356.0 L403.0 364.6 L403.4 353.4 L403.9 365.7 L404.3 350.6 L404.8 362.2 L405.2 355.0 L405.7 361.6 L406.1 354.6 L406.6 362.8 L407.0 352.6 L407.5 363.6 L407.9 355.3 L408.4 361.2 L408.8 355.1 L409.3 361.6 L409.7 351.6 L410.2 361.3 L410.6 353.4 L411.1 361.3 L411.5 351.5 L412.0 360.2 L412.4 352.0 L412.9 358.2 L413.3 351.1 L413.8 358.3 L414.2 351.4 L414.7 356.9 L415.1 350.0 L415.6 357.8 L416.0 348.1 L416.5 356.0 L416.9 348.2 L417.4 357.2 L417.8 348.7 L418.3 357.5 L418.7 349.3 L419.2 357.4 L419.6 351.1 L420.1 358.0 L420.5 352.3 L421.0 357.0 L421.4 350.9 L421.9 357.6 L422.3 350.2 L422.8 357.2 L423.2 350.0 L423.7 355.9 L424.1 351.0 L424.6 355.2 L425.0 346.4 L425.5 355.6 L425.9 348.0 L426.4 355.9 L426.8 348.0 L427.3 356.5 L427.7 350.2 L428.2 357.4 L428.6 350.1 L429.1 356.2 L429.5 350.9 L430.0 357.6 L430.4 350.9 L430.9 357.6 L431.3 352.7 L431.8 358.3 L432.2 348.9 L432.7 361.1 L433.1 349.7 L433.6 357.7 L434.0 348.7 L434.5 356.7 L434.9 349.5 L435.4 358.8 L435.8 346.6 L436.3 357.3 L436.7 351.6 L437.2 358.0 L437.6 347.9 L438.1 360.1 L438.5 350.7 L439.0 359.6 L439.4 351.7 L439.9 359.5 L440.3 351.8 L440.8 359.8 L441.2 353.9 L441.7 361.6 L442.1 353.8 L442.6 358.7 L443.0 353.5 L443.5 359.8 L443.9 352.0 L444.4 359.7 L444.8 351.7 L445.3 360.7 L445.7 351.5 L446.2 358.3 L446.6 351.6 L447.1 358.4 L447.5 348.8 L448.0 355.4 L448.4 348.1 L448.9 354.5 L449.3 347.5 L449.8 354.2 L450.2 342.9 L450.7 353.6 L451.1 345.4 L451.6 351.9 L452.0 344.6 L452.5 350.1 L452.9 342.2 L453.4 352.4 L453.8 344.6 L454.3 350.6 L454.7 343.1 L455.2 352.2 L455.6 346.5 L456.1 354.0 L456.5 346.4 L457.0 354.6 L457.4 347.7 L457.9 356.0 L458.3 348.0 L458.8 357.4 L459.2 349.2 L459.7 357.6 L460.1 350.7 L460.6 360.2 L461.0 352.8 L461.5 363.8 L461.9 354.4 L462.4 362.2 L462.8 354.2 L463.3 364.4 L463.7 357.8 L464.2 365.8 L464.6 354.9 L465.1 365.8 L465.5 357.1 L466.0 367.2 L466.4 357.6 L466.9 370.1 L467.3 360.4 L467.8 369.3 L468.2 359.5 L468.7 370.2 L469.1 360.3 L469.6 368.5 L470.0 358.5 L470.5 371.8 L470.9 359.8 L471.4 368.3 L471.8 360.0 L472.3 369.8 L472.7 357.9 L473.2 367.0 L473.6 359.5 L474.1 366.5 L474.5 356.2 L475.0 363.4 L475.4 354.3 L475.9 363.7 L476.3 352.8 L476.8 359.8 L477.2 352.4 L477.7 359.2 L478.1 351.7 L478.6 359.2 L479.0 352.7 L479.5 359.8 L479.9 353.6 L480.4 361.6 L480.8 353.2 L481.3 361.2 L481.7 354.2 L482.2 365.1 L482.6 355.7 L483.1 364.0 L483.5 354.8 L484.0 364.8 L484.4 354.5 L484.9 364.0 L485.3 357.4 L485.8 366.5 L486.2 354.6 L486.7 364.3 L487.1 355.0 L487.6 366.1 L488.0 357.6 L488.5 364.2 L488.9 353.5 L489.4 363.0 L489.8 352.7 L490.3 360.3 L490.7 347.8 L491.2 359.8 L491.6 348.1 L492.1 358.2 L492.5 349.0 L493.0 357.8 L493.4 347.1 L493.9 357.4 L494.3 348.9 L494.8 356.8 L495.2 347.7 L495.7 358.0 L496.1 346.9 L496.6 357.7 L497.0 349.0 L497.5 358.1 L497.9 350.2 L498.4 360.5 L498.8 349.9 L499.3 363.6 L499.7 352.4 L500.2 363.3 L500.6 354.4 L501.1 361.5 L501.5 352.4 L502.0 361.2 L502.4 351.7 L502.9 360.2 L503.3 349.6 L503.8 362.3 L504.2 350.6 L504.7 356.9 L505.1 345.3 L505.6 355.8 L506.0 345.3 L506.5 356.8 L506.9 348.3 L507.4 356.4 L507.8 349.3 L508.3 357.5 L508.7 348.3 L509.2 360.1 L509.6 350.5 L510.1 360.8 L510.5 353.7 L511.0 363.6 L511.4 352.8 L511.9 362.6 L512.3 352.7 L512.8 361.0 L513.2 353.8 L513.7 362.1 L514.1 350.8 L514.6 361.4 L515.0 349.5 L515.5 360.6 L515.9 349.8 L516.4 359.1 L516.8 348.3 L517.3 356.7 L517.7 349.8 L518.2 358.2 L518.6 348.0 L519.1 356.0 L519.5 348.6 L520.0 356.4 L520.4 348.0 L520.9 355.9 L521.3 344.3 L521.8 355.7 L522.2 346.0 L522.7 355.0 L523.1 345.6 L523.6 356.5 L524.0 348.2 L524.5 359.0 L524.9 351.0 L525.4 360.8 L525.8 354.7 L526.3 365.0 L526.7 355.6 L527.2 372.8 L527.6 358.9 L528.1 367.6 L528.5 357.1 L529.0 367.1 L529.4 353.5 L529.9 366.2 L530.3 354.5 L530.8 361.7 L531.2 354.3 L531.7 366.1 L532.1 351.2 L532.6 360.0 L533.0 349.1 L533.5 359.4 L533.9 349.6 L534.4 356.3 L534.8 349.6 L535.3 355.6 L535.7 346.4 L536.2 359.3 L536.6 345.9 L537.1 354.3 L537.5 345.3 L538.0 353.9 L538.4 343.8 L538.9 358.2 L539.3 344.9 L539.8 353.4 L540.2 346.0 L540.7 352.8 L541.1 345.8 L541.6 352.9 L542.0 344.4 L542.5 350.6 L542.9 342.7 L543.4 350.8 L543.8 342.8 L544.3 348.4 L544.8 339.9 L545.2 351.1 L545.7 338.1 L546.1 351.0 L546.6 341.8 L547.0 350.3 L547.5 341.5 L547.9 349.2 L548.4 341.1 L548.8 348.2 L549.3 341.4 L549.7 352.5 L550.2 345.0 L550.6 352.7 L551.1 345.2 L551.5 356.5 L552.0 346.4 L552.4 357.9 L552.9 347.7 L553.3 360.2 L553.8 347.3 L554.2 358.7 L554.7 350.6 L555.1 361.1 L555.6 352.8 L556.0 363.3 L556.5 351.2 L556.9 361.5 L557.4 353.1 L557.8 359.7 L558.3 352.9 L558.7 359.3 L559.2 351.5 L559.6 357.6 L560.1 350.0 L560.5 357.6 L561.0 347.1 L561.4 357.8 L561.9 352.0 L562.3 359.3 L562.8 351.2 L563.2 358.0 L563.7 350.1 L564.1 358.8 L564.6 350.7 L565.0 358.4 L565.5 349.9 L565.9 358.1 L566.4 352.5 L566.8 358.5 L567.3 353.1 L567.7 359.2 L568.2 353.1 L568.6 359.6 L569.1 350.3 L569.5 359.9 L570.0 353.3 L570.4 360.0 L570.9 353.3 L571.3 359.9 L571.8 351.8 L572.2 360.9 L572.7 351.2 L573.1 361.6 L573.6 353.1 L574.0 361.1 L574.5 355.1 L574.9 360.7 L575.4 353.0 L575.8 363.0 L576.3 353.4 L576.7 363.4 L577.2 354.3 L577.6 362.5 L578.1 352.8 L578.5 364.1 L579.0 352.8 L579.4 364.3 L579.9 355.7 L580.3 362.4 L580.8 355.6 L581.2 363.7 L581.7 355.0 L582.1 363.6 L582.6 355.1 L583.0 363.8 L583.5 354.4 L583.9 361.0 L584.4 354.9 L584.8 360.3 L585.3 352.1 L585.7 358.2 L586.2 352.5 L586.6 358.8 L587.1 350.0 L587.5 357.7 L588.0 348.2 L588.4 356.8 L588.9 348.7 L589.3 357.1 L589.8 347.4 L590.2 356.4 L590.7 349.1 L591.1 356.3 L591.6 349.4 L592.0 356.5 L592.5 349.6 L592.9 354.4 L593.4 349.4 L593.8 355.4 L594.3 345.4 L594.7 356.8 L595.2 346.5 L595.6 355.1 L596.1 345.5 L596.5 354.6 L597.0 345.3 L597.4 352.1 L597.9 346.1 L598.3 353.4 L598.8 344.3 L599.2 351.0 L599.7 345.1 L600.1 352.8 L600.6 344.9 L601.0 353.4 L601.5 345.0 L601.9 354.4 L602.4 347.3 L602.8 354.4 L603.3 346.8 L603.7 356.1 L604.2 349.7 L604.6 356.8 L605.1 348.5 L605.5 358.7 L606.0 350.2 L606.4 359.5 L606.9 352.5 L607.3 359.8 L607.8 353.9 L608.2 361.4 L608.7 353.5 L609.1 361.7 L609.6 354.9 L610.0 361.6 L610.5 355.7 L610.9 359.7 L611.4 356.0 L611.8 360.0 L612.3 355.2 L612.7 360.5 L613.2 353.4 L613.6 361.0 L614.1 356.3 L614.5 360.4 L615.0 354.6 L615.4 360.4 L615.9 354.8 L616.3 360.1 L616.8 356.5 L617.2 360.4 L617.7 355.9 L618.1 362.0 L618.6 355.7 L619.0 361.7 L619.5 355.9 L619.9 360.8 L620.4 355.6 L620.8 360.2 L621.3 353.7 L621.7 360.8 L622.2 354.4 L622.6 360.7 L623.1 353.6 L623.5 358.4 L624.0 354.3 L624.4 358.1 L624.9 353.4 L625.3 359.6 L625.8 351.5 L626.2 358.0 L626.7 351.8 L627.1 358.7 L627.6 351.2 L628.0 357.4 L628.5 350.9 L628.9 357.3 L629.4 351.8 L629.8 358.4 L630.3 352.5 L630.7 358.2 L631.2 352.5 L631.6 358.0 L632.1 352.6 L632.5 360.4 L633.0 351.9 L633.4 357.2 L633.9 350.4 L634.3 357.1 L634.8 350.2 L635.2 358.3 L635.7 351.2 L636.1 357.4 L636.6 349.7 L637.0 355.8 L637.5 349.7 L637.9 358.1 L638.4 351.6 L638.8 358.9 L639.3 353.1 L639.7 359.3 L640.2 351.8 L640.6 359.3 L641.1 354.9 L641.5 360.9 L642.0 355.5 L642.4 361.2 L642.9 354.7 L643.3 362.0 L643.8 356.7 L644.2 360.9 L644.7 355.9 L645.1 362.2 L645.6 356.4 L646.0 361.3 L646.5 356.4 L646.9 360.6 L647.4 355.7 L647.8 361.2 L648.3 355.9 L648.7 359.1 L649.2 355.6 L649.6 358.5 L650.1 353.4 L650.5 359.0 L651.0 353.2 L651.4 357.7 L651.9 351.4 L652.3 357.9 L652.8 351.7 L653.2 359.6 L653.7 351.3 L654.1 357.4 L654.6 350.7 L655.0 356.9 L655.5 350.2 L655.9 357.7 L656.4 350.5 L656.8 358.6 L657.3 351.6 L657.7 359.0 L658.2 352.1 L658.6 357.9 L659.1 352.0 L659.5 357.4 L660.0 351.7 L660.4 356.8 L660.9 348.5 L661.3 355.6 L661.8 349.2 L662.2 354.0 L662.7 346.7 L663.1 354.5 L663.6 348.2 L664.0 354.0 L664.5 348.0 L664.9 354.9 L665.4 349.3 L665.8 355.5 L666.3 351.2 L666.7 357.6 L667.2 352.7 L667.6 356.7 L668.1 351.8 L668.5 356.2 L669.0 350.3 L669.4 357.2 L669.9 349.0 L670.3 354.9 L670.8 348.1 L671.2 357.3 L671.7 349.6 L672.1 356.1 L672.6 350.8 L673.0 355.5 L673.5 350.3 L673.9 355.6 L674.4 349.3 L674.8 357.4 L675.3 349.6 L675.7 356.9 L676.2 351.2" fill="none" stroke="#00ff00" stroke-width="2.0" stroke-linejoin="round" stroke-linecap="round"/><path d="M375.4 423.0 L377.4 401.2 L379.5 380.9 L381.6 364.6 L383.2 354.0" fill="none" stroke="#00ff00" stroke-width="3.5" stroke-linejoin="round" stroke-linecap="round"/><path d="M383.2 356.0 L383.6 351.4 L384.1 357.9 L384.5 349.6 L385.0 354.7 L385.4 349.7 L385.9 355.7 L386.3 349.9 L386.8 357.4 L387.2 349.2 L387.7 356.3 L388.1 351.2 L388.6 357.1 L389.0 352.9 L389.5 357.7 L389.9 353.1 L390.4 360.3 L390.8 353.0 L391.3 359.8 L391.7 353.6 L392.2 360.4 L392.6 356.5 L393.1 363.0 L393.5 356.0 L394.0 364.8 L394.4 357.3 L394.9 364.7 L395.3 358.2 L395.8 366.3 L396.2 359.5 L396.7 367.6 L397.1 358.8 L397.6 368.1 L398.0 356.8 L398.5 364.7 L398.9 355.9 L399.4 363.4 L399.8 356.9 L400.3 365.3 L400.7 355.5 L401.2 364.7 L401.6 354.9 L402.1 362.7 L402.5 355.0 L403.0 365.4 L403.4 353.8 L403.9 363.9 L404.3 350.0 L404.8 363.2 L405.2 354.7 L405.7 361.4 L406.1 352.6 L406.6 362.7 L407.0 354.6 L407.5 360.7 L407.9 354.9 L408.4 360.7 L408.8 354.5 L409.3 358.5 L409.7 354.7 L410.2 360.1 L410.6 352.8 L411.1 359.2 L411.5 351.4 L412.0 359.7 L412.4 350.3 L412.9 357.3 L413.3 352.0 L413.8 358.9 L414.2 350.7 L414.7 355.6 L415.1 348.7 L415.6 355.2 L416.0 349.2 L416.5 357.6 L416.9 348.3 L417.4 354.7 L417.8 348.3 L418.3 355.2 L418.7 349.8 L419.2 357.3 L419.6 351.3 L420.1 356.5 L420.5 351.7 L421.0 356.4 L421.4 351.4 L421.9 357.0 L422.3 349.5 L422.8 355.2 L423.2 349.9 L423.7 356.0 L424.1 349.4 L424.6 356.9 L425.0 349.9 L425.5 354.8 L425.9 349.3 L426.4 354.5 L426.8 349.0 L427.3 354.7 L427.7 346.8 L428.2 354.9 L428.6 348.9 L429.1 357.5 L429.5 349.8 L430.0 355.7 L430.4 352.0 L430.9 357.3 L431.3 351.4 L431.8 356.7 L432.2 352.2 L432.7 358.4 L433.1 350.4 L433.6 357.9 L434.0 350.1 L434.5 357.1 L434.9 348.9 L435.4 358.8 L435.8 348.9 L436.3 356.3 L436.7 350.6 L437.2 356.9 L437.6 349.7 L438.1 358.3 L438.5 349.2 L439.0 359.7 L439.4 351.1 L439.9 358.7 L440.3 351.9 L440.8 359.7 L441.2 353.6 L441.7 359.7 L442.1 354.0 L442.6 359.5 L443.0 352.0 L443.5 358.4 L443.9 352.0 L444.4 357.8 L444.8 352.4 L445.3 356.8 L445.7 349.9 L446.2 357.3 L446.6 349.9 L447.1 359.5 L447.5 349.5 L448.0 356.4 L448.4 349.2 L448.9 355.5 L449.3 348.3 L449.8 355.5 L450.2 345.5 L450.7 352.2 L451.1 343.0 L451.6 350.2 L452.0 343.3 L452.5 353.5 L452.9 345.1 L453.4 352.1 L453.8 345.5 L454.3 351.8 L454.7 345.6 L455.2 351.3 L455.6 345.9 L456.1 352.1 L456.5 346.5 L457.0 352.3 L457.4 345.4 L457.9 355.6 L458.3 348.7 L458.8 357.0 L459.2 346.4 L459.7 359.1 L460.1 349.8 L460.6 360.3 L461.0 350.8 L461.5 363.7 L461.9 350.7 L462.4 362.8 L462.8 354.4 L463.3 361.5 L463.7 357.0 L464.2 364.6 L464.6 356.3 L465.1 365.3 L465.5 358.8 L466.0 367.4 L466.4 358.0 L466.9 368.0 L467.3 356.8 L467.8 368.9 L468.2 358.7 L468.7 368.2 L469.1 358.8 L469.6 367.4 L470.0 358.7 L470.5 368.2 L470.9 358.2 L471.4 367.3 L471.8 356.3 L472.3 366.4 L472.7 358.4 L473.2 365.7 L473.6 359.3 L474.1 365.1 L474.5 355.5 L475.0 362.2 L475.4 355.4 L475.9 359.7 L476.3 352.2 L476.8 359.5 L477.2 351.0 L477.7 357.8 L478.1 352.6 L478.6 359.1 L479.0 351.5 L479.5 359.3 L479.9 352.6 L480.4 360.3 L480.8 353.0 L481.3 360.9 L481.7 355.1 L482.2 361.5 L482.6 355.1 L483.1 362.3 L483.5 354.8 L484.0 360.9 L484.4 354.6 L484.9 361.6 L485.3 356.3 L485.8 364.8 L486.2 352.8 L486.7 365.4 L487.1 355.2 L487.6 366.0 L488.0 353.2 L488.5 363.9 L488.9 353.3 L489.4 361.2 L489.8 351.9 L490.3 360.6 L490.7 349.6 L491.2 356.8 L491.6 348.6 L492.1 356.1 L492.5 344.1 L493.0 355.8 L493.4 346.3 L493.9 355.8 L494.3 346.5 L494.8 358.1 L495.2 348.0 L495.7 355.6 L496.1 347.2 L496.6 357.6 L497.0 348.6 L497.5 356.5 L497.9 349.6 L498.4 357.7 L498.8 352.6 L499.3 361.4 L499.7 351.1 L500.2 362.2 L500.6 352.6 L501.1 363.4 L501.5 351.1 L502.0 361.2 L502.4 348.6 L502.9 359.1 L503.3 348.7 L503.8 359.6 L504.2 347.7 L504.7 355.9 L505.1 347.5 L505.6 355.5 L506.0 345.0 L506.5 355.3 L506.9 348.1 L507.4 357.2 L507.8 348.0 L508.3 359.0 L508.7 351.3 L509.2 358.2 L509.6 351.0 L510.1 359.2 L510.5 352.4 L511.0 363.3 L511.4 353.3 L511.9 362.9 L512.3 354.9 L512.8 362.7 L513.2 353.2 L513.7 362.7 L514.1 351.2 L514.6 358.1 L515.0 350.5 L515.5 357.7 L515.9 347.5 L516.4 355.9 L516.8 348.0 L517.3 356.1 L517.7 348.7 L518.2 357.1 L518.6 348.0 L519.1 356.9 L519.5 349.2 L520.0 356.3 L520.4 347.0 L520.9 355.2 L521.3 347.3 L521.8 354.9 L522.2 346.8 L522.7 352.8 L523.1 345.2 L523.6 354.7 L524.0 350.1 L524.5 357.5 L524.9 350.8 L525.4 363.1 L525.8 355.6 L526.3 364.2 L526.7 358.9 L527.2 369.4 L527.6 355.9 L528.1 366.1 L528.5 356.7 L529.0 363.7 L529.4 356.3 L529.9 364.0 L530.3 353.9 L530.8 363.4 L531.2 353.1 L531.7 360.1 L532.1 352.3 L532.6 360.1 L533.0 352.1 L533.5 357.8 L533.9 350.7 L534.4 357.5 L534.8 348.3 L535.3 358.0 L535.7 349.1 L536.2 357.7 L536.6 347.5 L537.1 355.3 L537.5 347.8 L538.0 356.2 L538.4 345.4 L538.9 357.0 L539.3 345.4 L539.8 354.2 L540.2 343.0 L540.7 354.2 L541.1 345.7 L541.6 352.4 L542.0 343.5 L542.5 352.3 L542.9 343.3 L543.4 349.0 L543.8 341.0 L544.3 348.0 L544.8 340.2 L545.2 352.2 L545.7 342.4 L546.1 350.4 L546.6 341.8 L547.0 350.6 L547.5 341.1 L547.9 349.1 L548.4 342.1 L548.8 351.5 L549.3 341.6 L549.7 351.0 L550.2 343.4 L550.6 352.9 L551.1 346.6 L551.5 355.4 L552.0 346.8 L552.4 360.4 L552.9 349.8 L553.3 359.1 L553.8 349.8 L554.2 360.7 L554.7 350.8 L555.1 361.5 L555.6 352.5 L556.0 363.4 L556.5 351.9 L556.9 362.9 L557.4 353.9 L557.8 363.5 L558.3 350.2 L558.7 359.0 L559.2 351.5 L559.6 358.3 L560.1 350.8 L560.5 357.5 L561.0 351.5 L561.4 359.5 L561.9 350.8 L562.3 356.8 L562.8 350.1 L563.2 357.8 L563.7 351.5 L564.1 357.1 L564.6 351.4 L565.0 359.7 L565.5 352.7 L565.9 357.9 L566.4 351.5 L566.8 359.2 L567.3 351.6 L567.7 357.8 L568.2 351.9 L568.6 358.9 L569.1 354.0 L569.5 360.7 L570.0 353.3 L570.4 359.2 L570.9 352.9 L571.3 358.3 L571.8 352.9 L572.2 358.8 L572.7 354.9 L573.1 359.9 L573.6 353.5 L574.0 360.7 L574.5 353.9 L574.9 362.2 L575.4 351.8 L575.8 360.5 L576.3 355.0 L576.7 361.7 L577.2 352.8 L577.6 364.8 L578.1 351.6 L578.5 362.2 L579.0 355.4 L579.4 364.1 L579.9 354.6 L580.3 363.7 L580.8 355.5 L581.2 363.0 L581.7 355.0 L582.1 362.9 L582.6 356.8 L583.0 362.8 L583.5 355.7 L583.9 361.2 L584.4 355.7 L584.8 359.2 L585.3 353.4 L585.7 358.1 L586.2 352.1 L586.6 356.8 L587.1 349.2 L587.5 355.6 L588.0 347.6 L588.4 354.5 L588.9 349.6 L589.3 354.6 L589.8 347.8 L590.2 356.8 L590.7 349.8 L591.1 354.5 L591.6 347.1 L592.0 355.6 L592.5 348.8 L592.9 354.0 L593.4 348.7 L593.8 355.2 L594.3 347.7 L594.7 354.9 L595.2 347.0 L595.6 354.0 L596.1 346.7 L596.5 352.9 L597.0 346.6 L597.4 352.4 L597.9 344.1 L598.3 351.9 L598.8 343.1 L599.2 351.8 L599.7 344.0 L600.1 351.4 L600.6 344.2 L601.0 352.3 L601.5 345.7 L601.9 351.9 L602.4 347.8 L602.8 354.4 L603.3 346.8 L603.7 356.3 L604.2 348.1 L604.6 355.5 L605.1 349.7 L605.5 356.3 L606.0 351.8 L606.4 356.9 L606.9 351.1 L607.3 359.3 L607.8 351.9 L608.2 359.1 L608.7 353.5 L609.1 360.1 L609.6 352.4 L610.0 359.7 L610.5 354.0 L610.9 360.6 L611.4 354.8 L611.8 360.7 L612.3 355.4 L612.7 360.0 L613.2 354.3 L613.6 359.2 L614.1 353.9 L614.5 359.1 L615.0 355.7 L615.4 360.8 L615.9 354.9 L616.3 361.2 L616.8 354.8 L617.2 359.9 L617.7 356.4 L618.1 360.7 L618.6 355.9 L619.0 360.9 L619.5 355.4 L619.9 360.0 L620.4 354.7 L620.8 359.5 L621.3 354.0 L621.7 359.2 L622.2 354.9 L622.6 358.9 L623.1 353.7 L623.5 359.5 L624.0 351.5 L624.4 359.6 L624.9 353.3 L625.3 359.2 L625.8 351.3 L626.2 357.4 L626.7 351.1 L627.1 356.8 L627.6 351.2 L628.0 356.9 L628.5 351.1 L628.9 357.8 L629.4 350.4 L629.8 356.5 L630.3 351.7 L630.7 357.4 L631.2 352.1 L631.6 357.1 L632.1 353.4 L632.5 358.0 L633.0 353.1 L633.4 357.7 L633.9 351.2 L634.3 356.2 L634.8 351.4 L635.2 357.4 L635.7 349.0 L636.1 355.6 L636.6 349.3 L637.0 355.7 L637.5 348.6 L637.9 356.1 L638.4 352.2 L638.8 358.8 L639.3 352.7 L639.7 359.0 L640.2 354.2 L640.6 359.1 L641.1 355.3 L641.5 360.1 L642.0 356.4 L642.4 361.2 L642.9 356.8 L643.3 362.6 L643.8 356.6 L644.2 360.2 L644.7 355.2 L645.1 361.1 L645.6 357.0 L646.0 361.8 L646.5 357.2 L646.9 361.8 L647.4 356.8 L647.8 360.0 L648.3 354.9 L648.7 358.9 L649.2 354.6 L649.6 358.0 L650.1 353.5 L650.5 358.5 L651.0 352.3 L651.4 358.0 L651.9 352.0 L652.3 357.6 L652.8 351.2 L653.2 357.2 L653.7 348.8 L654.1 356.4 L654.6 350.9 L655.0 356.5 L655.5 349.2 L655.9 358.1 L656.4 351.1 L656.8 357.7 L657.3 351.9 L657.7 357.2 L658.2 352.1 L658.6 359.7 L659.1 351.5 L659.5 356.7 L660.0 350.9 L660.4 356.5 L660.9 349.2 L661.3 356.8 L661.8 347.8 L662.2 354.6 L662.7 346.0 L663.1 352.4 L663.6 345.3 L664.0 352.9 L664.5 347.4 L664.9 353.9 L665.4 349.1 L665.8 355.3 L666.3 348.0 L666.7 356.2 L667.2 350.7 L667.6 356.4 L668.1 351.5 L668.5 356.2 L669.0 351.0 L669.4 356.0 L669.9 349.0 L670.3 355.5 L670.8 349.6 L671.2 355.8 L671.7 348.9 L672.1 356.5 L672.6 349.5 L673.0 354.6 L673.5 350.3 L673.9 356.3 L674.4 351.5 L674.8 355.8 L675.3 352.5 L675.7 356.4 L676.2 350.9" fill="none" stroke="#ff00ff" stroke-width="2.0" stroke-linejoin="round" stroke-linecap="round"/><path d="M376.1 423.0 L378.1 401.2 L380.2 380.9 L382.2 364.6 L383.8 353.5" fill="none" stroke="#ff00ff" stroke-width="4.3" stroke-linejoin="round" stroke-linecap="round"/><text x="38.0" y="12.0" fill="#262626" stroke="#262626" text-anchor="end" font-size="15.80">2</text><text x="38.0" y="46.8" fill="#262626" stroke="#262626" text-anchor="end" font-size="15.80">1</text><text x="38.0" y="81.6" fill="#262626" stroke="#262626" text-anchor="end" font-size="15.80">0</text><text x="38.0" y="116.4" fill="#262626" stroke="#262626" text-anchor="end" font-size="15.80">−1</text><text x="38.0" y="151.2" fill="#262626" stroke="#262626" text-anchor="end" font-size="15.80">−2</text><text x="38.0" y="186.2" fill="#262626" stroke="#262626" text-anchor="end" font-size="15.80">1</text><text x="38.0" y="221.1" fill="#262626" stroke="#262626" text-anchor="end" font-size="15.80">0</text><text x="38.0" y="256.0" fill="#262626" stroke="#262626" text-anchor="end" font-size="15.80">−1</text><text x="38.0" y="290.8" fill="#262626" stroke="#262626" text-anchor="end" font-size="15.80">−2</text><text x="38.0" y="325.5" fill="#262626" stroke="#262626" text-anchor="end" font-size="15.80">1</text><text x="38.0" y="360.3" fill="#262626" stroke="#262626" text-anchor="end" font-size="15.80">0</text><text x="38.0" y="395.2" fill="#262626" stroke="#262626" text-anchor="end" font-size="15.80">−1</text><text x="38.0" y="430.0" fill="#262626" stroke="#262626" text-anchor="end" font-size="15.80">−2</text><text x="41.6" y="442.0" fill="#262626" stroke="#262626" text-anchor="middle" font-size="15.80">0</text><text x="79.4" y="442.0" fill="#262626" stroke="#262626" text-anchor="middle" font-size="15.80">3</text><text x="117.2" y="442.0" fill="#262626" stroke="#262626" text-anchor="middle" font-size="15.80">6</text><text x="155.0" y="442.0" fill="#262626" stroke="#262626" text-anchor="middle" font-size="15.80">9</text><text x="192.7" y="442.0" fill="#262626" stroke="#262626" text-anchor="middle" font-size="15.80">12</text><text x="230.5" y="442.0" fill="#262626" stroke="#262626" text-anchor="middle" font-size="15.80">15</text><text x="268.3" y="442.0" fill="#262626" stroke="#262626" text-anchor="middle" font-size="15.80">18</text><text x="306.1" y="442.0" fill="#262626" stroke="#262626" text-anchor="middle" font-size="15.80">21</text><text x="343.9" y="442.0" fill="#262626" stroke="#262626" text-anchor="middle" font-size="15.80">24</text><text x="192.8" y="462.2" fill="#262626" stroke="#262626" text-anchor="middle" font-size="16.80">Time [hour]</text><text x="374.2" y="442.0" fill="#262626" stroke="#262626" text-anchor="middle" font-size="15.80">0</text><text x="412.0" y="442.0" fill="#262626" stroke="#262626" text-anchor="middle" font-size="15.80">3</text><text x="449.8" y="442.0" fill="#262626" stroke="#262626" text-anchor="middle" font-size="15.80">6</text><text x="487.6" y="442.0" fill="#262626" stroke="#262626" text-anchor="middle" font-size="15.80">9</text><text x="525.4" y="442.0" fill="#262626" stroke="#262626" text-anchor="middle" font-size="15.80">12</text><text x="563.1" y="442.0" fill="#262626" stroke="#262626" text-anchor="middle" font-size="15.80">15</text><text x="600.9" y="442.0" fill="#262626" stroke="#262626" text-anchor="middle" font-size="15.80">18</text><text x="638.7" y="442.0" fill="#262626" stroke="#262626" text-anchor="middle" font-size="15.80">21</text><text x="676.5" y="442.0" fill="#262626" stroke="#262626" text-anchor="middle" font-size="15.80">24</text><text x="525.4" y="462.2" fill="#262626" stroke="#262626" text-anchor="middle" font-size="16.80">Time [hour]</text><text x="0" y="0" fill="#262626" stroke="#262626" text-anchor="middle" font-size="16.80" transform="translate(13.6 75.7) rotate(-90)">North [m]</text><text x="0" y="0" fill="#262626" stroke="#262626" text-anchor="middle" font-size="16.80" transform="translate(13.6 215.2) rotate(-90)">East [m]</text><text x="0" y="0" fill="#262626" stroke="#262626" text-anchor="middle" font-size="16.80" transform="translate(13.6 354.4) rotate(-90)">Up [m]</text><text x="55.0" y="136.2" fill="#111" stroke="#111" text-anchor="start">RMS:</text><text x="104.3" y="136.2" fill="#00ffff" stroke="#00ffff" text-anchor="start">0.102 m</text><text x="192.3" y="136.2" fill="#ff0000" stroke="#ff0000" text-anchor="start">0.083 m</text><text x="55.8" y="275.2" fill="#111" stroke="#111" text-anchor="start">RMS:</text><text x="104.3" y="275.2" fill="#00ffff" stroke="#00ffff" text-anchor="start">0.122 m</text><text x="192.3" y="275.2" fill="#ff0000" stroke="#ff0000" text-anchor="start">0.113 m</text><text x="54.8" y="414.7" fill="#111" stroke="#111" text-anchor="start">RMS:</text><text x="104.3" y="414.7" fill="#00ffff" stroke="#00ffff" text-anchor="start">0.243 m</text><text x="192.3" y="414.7" fill="#ff0000" stroke="#ff0000" text-anchor="start">0.165 m</text><text x="382.5" y="136.0" fill="#111" stroke="#111" text-anchor="start">RMS:</text><text x="437.3" y="136.0" fill="#00ff00" stroke="#00ff00" text-anchor="start">0.114 m</text><text x="525.3" y="136.0" fill="#ff00ff" stroke="#ff00ff" text-anchor="start">0.102 m</text><text x="381.6" y="274.8" fill="#111" stroke="#111" text-anchor="start">RMS:</text><text x="437.3" y="274.8" fill="#00ff00" stroke="#00ff00" text-anchor="start">0.119 m</text><text x="525.3" y="274.8" fill="#ff00ff" stroke="#ff00ff" text-anchor="start">0.113 m</text><text x="386.0" y="414.9" fill="#111" stroke="#111" text-anchor="start">RMS:</text><text x="437.3" y="414.9" fill="#00ff00" stroke="#00ff00" text-anchor="start">0.151 m</text><text x="525.3" y="414.9" fill="#ff00ff" stroke="#ff00ff" text-anchor="start">0.143 m</text><rect x="161.0" y="148.8" width="178.4" height="44.1" fill="#fff" stroke="#262626" stroke-width="2"/><line x1="166.8" y1="161.0" x2="227.4" y2="161.0" stroke="#00ffff" stroke-width="2.2"/><circle cx="197.4" cy="161.0" r="2.3" fill="#00ffff"/><text x="232.2" y="167.6" fill="#111" stroke="#111" text-anchor="start" font-size="15.80">BDS-3</text><line x1="166.8" y1="181.0" x2="227.4" y2="181.0" stroke="#ff0000" stroke-width="2.2"/><circle cx="197.4" cy="181.0" r="2.3" fill="#ff0000"/><text x="232.2" y="186.6" fill="#111" stroke="#111" text-anchor="start" font-size="15.80">BDS-3+QZSS</text><rect x="476.0" y="148.8" width="196.2" height="44.1" fill="#fff" stroke="#262626" stroke-width="2"/><line x1="481.8" y1="161.0" x2="542.4" y2="161.0" stroke="#00ff00" stroke-width="2.2"/><circle cx="512.4" cy="161.0" r="2.3" fill="#00ff00"/><text x="547.2" y="167.6" fill="#111" stroke="#111" text-anchor="start" font-size="15.80">BDS-3+2</text><line x1="481.8" y1="181.0" x2="542.4" y2="181.0" stroke="#ff00ff" stroke-width="2.2"/><circle cx="512.4" cy="181.0" r="2.3" fill="#ff00ff"/><text x="547.2" y="186.6" fill="#111" stroke="#111" text-anchor="start" font-size="15.80">BDS-3+2+QZSS</text></g></svg>
</body></html>
